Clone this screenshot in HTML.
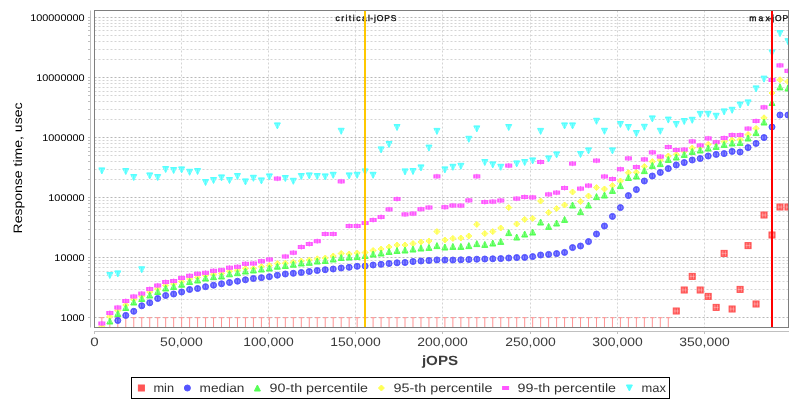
<!DOCTYPE html>
<html><head><meta charset="utf-8"><title>Response time vs jOPS</title>
<style>html,body{margin:0;padding:0;background:#fff;}body{width:800px;height:400px;overflow:hidden;}svg{display:block;will-change:transform;}text{font-family:"Liberation Sans",sans-serif;text-rendering:geometricPrecision;}</style>
</head><body>
<svg width="800" height="400" viewBox="0 0 800 400">
<defs><clipPath id="pc"><rect x="94.5" y="10.5" width="694" height="317"/></clipPath></defs>
<g stroke="#d4d4d4" stroke-width="1" stroke-dasharray="2 2" fill="none" clip-path="url(#pc)">
<path d="M94.5 317.5H788.5" stroke="#b8b8b8"/>
<path d="M94.5 299.5H788.5"/>
<path d="M94.5 289.5H788.5"/>
<path d="M94.5 281.5H788.5"/>
<path d="M94.5 275.5H788.5"/>
<path d="M94.5 271.5H788.5"/>
<path d="M94.5 267.5H788.5"/>
<path d="M94.5 263.5H788.5"/>
<path d="M94.5 260.5H788.5"/>
<path d="M94.5 257.5H788.5" stroke="#b8b8b8"/>
<path d="M94.5 239.5H788.5"/>
<path d="M94.5 229.5H788.5"/>
<path d="M94.5 221.5H788.5"/>
<path d="M94.5 215.5H788.5"/>
<path d="M94.5 211.5H788.5"/>
<path d="M94.5 207.5H788.5"/>
<path d="M94.5 203.5H788.5"/>
<path d="M94.5 200.5H788.5"/>
<path d="M94.5 197.5H788.5" stroke="#b8b8b8"/>
<path d="M94.5 179.5H788.5"/>
<path d="M94.5 169.5H788.5"/>
<path d="M94.5 161.5H788.5"/>
<path d="M94.5 155.5H788.5"/>
<path d="M94.5 151.5H788.5"/>
<path d="M94.5 147.5H788.5"/>
<path d="M94.5 143.5H788.5"/>
<path d="M94.5 140.5H788.5"/>
<path d="M94.5 137.5H788.5" stroke="#b8b8b8"/>
<path d="M94.5 119.5H788.5"/>
<path d="M94.5 109.5H788.5"/>
<path d="M94.5 101.5H788.5"/>
<path d="M94.5 95.5H788.5"/>
<path d="M94.5 91.5H788.5"/>
<path d="M94.5 87.5H788.5"/>
<path d="M94.5 83.5H788.5"/>
<path d="M94.5 80.5H788.5"/>
<path d="M94.5 77.5H788.5" stroke="#b8b8b8"/>
<path d="M94.5 59.5H788.5"/>
<path d="M94.5 49.5H788.5"/>
<path d="M94.5 41.5H788.5"/>
<path d="M94.5 35.5H788.5"/>
<path d="M94.5 30.5H788.5"/>
<path d="M94.5 26.5H788.5"/>
<path d="M94.5 23.5H788.5"/>
<path d="M94.5 20.5H788.5"/>
<path d="M94.5 17.5H788.5" stroke="#b8b8b8"/>
<path d="M94.5 10.5V327.5"/>
<path d="M181.5 10.5V327.5"/>
<path d="M268.5 10.5V327.5"/>
<path d="M355.5 10.5V327.5"/>
<path d="M442.5 10.5V327.5"/>
<path d="M530.5 10.5V327.5"/>
<path d="M617.5 10.5V327.5"/>
<path d="M704.5 10.5V327.5"/>
</g>
<g clip-path="url(#pc)" fill="#000" font-size="8.5px" stroke="#000" stroke-width="0.28">
<text x="335.4" y="20.6" textLength="34.6" lengthAdjust="spacing">critical</text>
<text x="370.3" y="20.6" textLength="26" lengthAdjust="spacing">-jOPS</text>
<text x="749.2" y="20.6" textLength="20.6" lengthAdjust="spacing">max</text>
<text x="768.5" y="20.6" textLength="26.2" lengthAdjust="spacing">-jOPS</text>
</g>
<g clip-path="url(#pc)">
<g stroke="#ff9494" stroke-width="1" fill="none">
<path d="M99.75 317.7H103.95M101.85 317.7V329.5"/>
<path d="M107.73 317.7H111.93M109.83 317.7V329.5"/>
<path d="M115.71 317.7H119.91M117.81 317.7V329.5"/>
<path d="M123.68 317.7H127.88M125.78 317.7V329.5"/>
<path d="M131.66 317.7H135.86M133.76 317.7V329.5"/>
<path d="M139.64 317.7H143.84M141.74 317.7V329.5"/>
<path d="M147.62 317.7H151.82M149.72 317.7V329.5"/>
<path d="M155.6 317.7H159.8M157.7 317.7V329.5"/>
<path d="M163.57 317.7H167.77M165.67 317.7V329.5"/>
<path d="M171.55 317.7H175.75M173.65 317.7V329.5"/>
<path d="M179.53 317.7H183.73M181.63 317.7V329.5"/>
<path d="M187.51 317.7H191.71M189.61 317.7V329.5"/>
<path d="M195.49 317.7H199.69M197.59 317.7V329.5"/>
<path d="M203.46 317.7H207.66M205.56 317.7V329.5"/>
<path d="M211.44 317.7H215.64M213.54 317.7V329.5"/>
<path d="M219.42 317.7H223.62M221.52 317.7V329.5"/>
<path d="M227.4 317.7H231.6M229.5 317.7V329.5"/>
<path d="M235.38 317.7H239.58M237.48 317.7V329.5"/>
<path d="M243.35 317.7H247.55M245.45 317.7V329.5"/>
<path d="M251.33 317.7H255.53M253.43 317.7V329.5"/>
<path d="M259.31 317.7H263.51M261.41 317.7V329.5"/>
<path d="M267.29 317.7H271.49M269.39 317.7V329.5"/>
<path d="M275.27 317.7H279.47M277.37 317.7V329.5"/>
<path d="M283.24 317.7H287.44M285.34 317.7V329.5"/>
<path d="M291.22 317.7H295.42M293.32 317.7V329.5"/>
<path d="M299.2 317.7H303.4M301.3 317.7V329.5"/>
<path d="M307.18 317.7H311.38M309.28 317.7V329.5"/>
<path d="M315.16 317.7H319.36M317.26 317.7V329.5"/>
<path d="M323.13 317.7H327.33M325.23 317.7V329.5"/>
<path d="M331.11 317.7H335.31M333.21 317.7V329.5"/>
<path d="M339.09 317.7H343.29M341.19 317.7V329.5"/>
<path d="M347.07 317.7H351.27M349.17 317.7V329.5"/>
<path d="M355.05 317.7H359.25M357.15 317.7V329.5"/>
<path d="M363.02 317.7H367.22M365.12 317.7V329.5"/>
<path d="M371 317.7H375.2M373.1 317.7V329.5"/>
<path d="M378.98 317.7H383.18M381.08 317.7V329.5"/>
<path d="M386.96 317.7H391.16M389.06 317.7V329.5"/>
<path d="M394.94 317.7H399.14M397.04 317.7V329.5"/>
<path d="M402.91 317.7H407.11M405.01 317.7V329.5"/>
<path d="M410.89 317.7H415.09M412.99 317.7V329.5"/>
<path d="M418.87 317.7H423.07M420.97 317.7V329.5"/>
<path d="M426.85 317.7H431.05M428.95 317.7V329.5"/>
<path d="M434.83 317.7H439.03M436.93 317.7V329.5"/>
<path d="M442.8 317.7H447M444.9 317.7V329.5"/>
<path d="M450.78 317.7H454.98M452.88 317.7V329.5"/>
<path d="M458.76 317.7H462.96M460.86 317.7V329.5"/>
<path d="M466.74 317.7H470.94M468.84 317.7V329.5"/>
<path d="M474.72 317.7H478.92M476.82 317.7V329.5"/>
<path d="M482.69 317.7H486.89M484.79 317.7V329.5"/>
<path d="M490.67 317.7H494.87M492.77 317.7V329.5"/>
<path d="M498.65 317.7H502.85M500.75 317.7V329.5"/>
<path d="M506.63 317.7H510.83M508.73 317.7V329.5"/>
<path d="M514.61 317.7H518.81M516.71 317.7V329.5"/>
<path d="M522.58 317.7H526.78M524.68 317.7V329.5"/>
<path d="M530.56 317.7H534.76M532.66 317.7V329.5"/>
<path d="M538.54 317.7H542.74M540.64 317.7V329.5"/>
<path d="M546.52 317.7H550.72M548.62 317.7V329.5"/>
<path d="M554.5 317.7H558.7M556.6 317.7V329.5"/>
<path d="M562.47 317.7H566.67M564.57 317.7V329.5"/>
<path d="M570.45 317.7H574.65M572.55 317.7V329.5"/>
<path d="M578.43 317.7H582.63M580.53 317.7V329.5"/>
<path d="M586.41 317.7H590.61M588.51 317.7V329.5"/>
<path d="M594.39 317.7H598.59M596.49 317.7V329.5"/>
<path d="M602.36 317.7H606.56M604.46 317.7V329.5"/>
<path d="M610.34 317.7H614.54M612.44 317.7V329.5"/>
<path d="M618.32 317.7H622.52M620.42 317.7V329.5"/>
<path d="M626.3 317.7H630.5M628.4 317.7V329.5"/>
<path d="M634.28 317.7H638.48M636.38 317.7V329.5"/>
<path d="M642.25 317.7H646.45M644.35 317.7V329.5"/>
<path d="M650.23 317.7H654.43M652.33 317.7V329.5"/>
<path d="M658.21 317.7H662.41M660.31 317.7V329.5"/>
<path d="M666.19 317.7H670.39M668.29 317.7V329.5"/>
</g>
<path d="M98.85 167.9L104.85 167.9L101.85 173.9Z" fill="#55ffff" stroke="#55ffff"/>
<path d="M100.55 168.9V171.9M103.15 168.9V171.9" stroke="#fff" stroke-width="0.8" fill="none" opacity="0.42"/>
<path d="M106.83 272.5L112.83 272.5L109.83 278.5Z" fill="#55ffff" stroke="#55ffff"/>
<path d="M108.53 273.5V276.5M111.13 273.5V276.5" stroke="#fff" stroke-width="0.8" fill="none" opacity="0.42"/>
<path d="M114.81 270.9L120.81 270.9L117.81 276.9Z" fill="#55ffff" stroke="#55ffff"/>
<path d="M116.51 271.9V274.9M119.11 271.9V274.9" stroke="#fff" stroke-width="0.8" fill="none" opacity="0.42"/>
<path d="M122.78 168.5L128.78 168.5L125.78 174.5Z" fill="#55ffff" stroke="#55ffff"/>
<path d="M124.48 169.5V172.5M127.08 169.5V172.5" stroke="#fff" stroke-width="0.8" fill="none" opacity="0.42"/>
<path d="M130.76 174.5L136.76 174.5L133.76 180.5Z" fill="#55ffff" stroke="#55ffff"/>
<path d="M132.46 175.5V178.5M135.06 175.5V178.5" stroke="#fff" stroke-width="0.8" fill="none" opacity="0.42"/>
<path d="M138.74 266.8L144.74 266.8L141.74 272.8Z" fill="#55ffff" stroke="#55ffff"/>
<path d="M140.44 267.8V270.8M143.04 267.8V270.8" stroke="#fff" stroke-width="0.8" fill="none" opacity="0.42"/>
<path d="M146.72 172.9L152.72 172.9L149.72 178.9Z" fill="#55ffff" stroke="#55ffff"/>
<path d="M148.42 173.9V176.9M151.02 173.9V176.9" stroke="#fff" stroke-width="0.8" fill="none" opacity="0.42"/>
<path d="M154.7 174.5L160.7 174.5L157.7 180.5Z" fill="#55ffff" stroke="#55ffff"/>
<path d="M156.4 175.5V178.5M159 175.5V178.5" stroke="#fff" stroke-width="0.8" fill="none" opacity="0.42"/>
<path d="M162.67 166.5L168.67 166.5L165.67 172.5Z" fill="#55ffff" stroke="#55ffff"/>
<path d="M164.37 167.5V170.5M166.97 167.5V170.5" stroke="#fff" stroke-width="0.8" fill="none" opacity="0.42"/>
<path d="M170.65 167.5L176.65 167.5L173.65 173.5Z" fill="#55ffff" stroke="#55ffff"/>
<path d="M172.35 168.5V171.5M174.95 168.5V171.5" stroke="#fff" stroke-width="0.8" fill="none" opacity="0.42"/>
<path d="M178.63 166.9L184.63 166.9L181.63 172.9Z" fill="#55ffff" stroke="#55ffff"/>
<path d="M180.33 167.9V170.9M182.93 167.9V170.9" stroke="#fff" stroke-width="0.8" fill="none" opacity="0.42"/>
<path d="M186.61 169.3L192.61 169.3L189.61 175.3Z" fill="#55ffff" stroke="#55ffff"/>
<path d="M188.31 170.3V173.3M190.91 170.3V173.3" stroke="#fff" stroke-width="0.8" fill="none" opacity="0.42"/>
<path d="M194.59 168.5L200.59 168.5L197.59 174.5Z" fill="#55ffff" stroke="#55ffff"/>
<path d="M196.29 169.5V172.5M198.89 169.5V172.5" stroke="#fff" stroke-width="0.8" fill="none" opacity="0.42"/>
<path d="M202.56 179.5L208.56 179.5L205.56 185.5Z" fill="#55ffff" stroke="#55ffff"/>
<path d="M204.26 180.5V183.5M206.86 180.5V183.5" stroke="#fff" stroke-width="0.8" fill="none" opacity="0.42"/>
<path d="M210.54 177.5L216.54 177.5L213.54 183.5Z" fill="#55ffff" stroke="#55ffff"/>
<path d="M212.24 178.5V181.5M214.84 178.5V181.5" stroke="#fff" stroke-width="0.8" fill="none" opacity="0.42"/>
<path d="M218.52 174.9L224.52 174.9L221.52 180.9Z" fill="#55ffff" stroke="#55ffff"/>
<path d="M220.22 175.9V178.9M222.82 175.9V178.9" stroke="#fff" stroke-width="0.8" fill="none" opacity="0.42"/>
<path d="M226.5 177.5L232.5 177.5L229.5 183.5Z" fill="#55ffff" stroke="#55ffff"/>
<path d="M228.2 178.5V181.5M230.8 178.5V181.5" stroke="#fff" stroke-width="0.8" fill="none" opacity="0.42"/>
<path d="M234.48 173.5L240.48 173.5L237.48 179.5Z" fill="#55ffff" stroke="#55ffff"/>
<path d="M236.18 174.5V177.5M238.78 174.5V177.5" stroke="#fff" stroke-width="0.8" fill="none" opacity="0.42"/>
<path d="M242.45 178.9L248.45 178.9L245.45 184.9Z" fill="#55ffff" stroke="#55ffff"/>
<path d="M244.15 179.9V182.9M246.75 179.9V182.9" stroke="#fff" stroke-width="0.8" fill="none" opacity="0.42"/>
<path d="M250.43 175.3L256.43 175.3L253.43 181.3Z" fill="#55ffff" stroke="#55ffff"/>
<path d="M252.13 176.3V179.3M254.73 176.3V179.3" stroke="#fff" stroke-width="0.8" fill="none" opacity="0.42"/>
<path d="M258.41 177.9L264.41 177.9L261.41 183.9Z" fill="#55ffff" stroke="#55ffff"/>
<path d="M260.11 178.9V181.9M262.71 178.9V181.9" stroke="#fff" stroke-width="0.8" fill="none" opacity="0.42"/>
<path d="M266.39 173.9L272.39 173.9L269.39 179.9Z" fill="#55ffff" stroke="#55ffff"/>
<path d="M268.09 174.9V177.9M270.69 174.9V177.9" stroke="#fff" stroke-width="0.8" fill="none" opacity="0.42"/>
<path d="M274.37 122.9L280.37 122.9L277.37 128.9Z" fill="#55ffff" stroke="#55ffff"/>
<path d="M276.07 123.9V126.9M278.67 123.9V126.9" stroke="#fff" stroke-width="0.8" fill="none" opacity="0.42"/>
<path d="M282.34 175.5L288.34 175.5L285.34 181.5Z" fill="#55ffff" stroke="#55ffff"/>
<path d="M284.04 176.5V179.5M286.64 176.5V179.5" stroke="#fff" stroke-width="0.8" fill="none" opacity="0.42"/>
<path d="M290.32 178.3L296.32 178.3L293.32 184.3Z" fill="#55ffff" stroke="#55ffff"/>
<path d="M292.02 179.3V182.3M294.62 179.3V182.3" stroke="#fff" stroke-width="0.8" fill="none" opacity="0.42"/>
<path d="M298.3 173.5L304.3 173.5L301.3 179.5Z" fill="#55ffff" stroke="#55ffff"/>
<path d="M300 174.5V177.5M302.6 174.5V177.5" stroke="#fff" stroke-width="0.8" fill="none" opacity="0.42"/>
<path d="M306.28 172.9L312.28 172.9L309.28 178.9Z" fill="#55ffff" stroke="#55ffff"/>
<path d="M307.98 173.9V176.9M310.58 173.9V176.9" stroke="#fff" stroke-width="0.8" fill="none" opacity="0.42"/>
<path d="M314.26 173.5L320.26 173.5L317.26 179.5Z" fill="#55ffff" stroke="#55ffff"/>
<path d="M315.96 174.5V177.5M318.56 174.5V177.5" stroke="#fff" stroke-width="0.8" fill="none" opacity="0.42"/>
<path d="M322.23 173.9L328.23 173.9L325.23 179.9Z" fill="#55ffff" stroke="#55ffff"/>
<path d="M323.93 174.9V177.9M326.53 174.9V177.9" stroke="#fff" stroke-width="0.8" fill="none" opacity="0.42"/>
<path d="M330.21 172.3L336.21 172.3L333.21 178.3Z" fill="#55ffff" stroke="#55ffff"/>
<path d="M331.91 173.3V176.3M334.51 173.3V176.3" stroke="#fff" stroke-width="0.8" fill="none" opacity="0.42"/>
<path d="M338.19 128.3L344.19 128.3L341.19 134.3Z" fill="#55ffff" stroke="#55ffff"/>
<path d="M339.89 129.3V132.3M342.49 129.3V132.3" stroke="#fff" stroke-width="0.8" fill="none" opacity="0.42"/>
<path d="M346.17 172.9L352.17 172.9L349.17 178.9Z" fill="#55ffff" stroke="#55ffff"/>
<path d="M347.87 173.9V176.9M350.47 173.9V176.9" stroke="#fff" stroke-width="0.8" fill="none" opacity="0.42"/>
<path d="M354.15 172.3L360.15 172.3L357.15 178.3Z" fill="#55ffff" stroke="#55ffff"/>
<path d="M355.85 173.3V176.3M358.45 173.3V176.3" stroke="#fff" stroke-width="0.8" fill="none" opacity="0.42"/>
<path d="M362.12 168.9L368.12 168.9L365.12 174.9Z" fill="#55ffff" stroke="#55ffff"/>
<path d="M363.82 169.9V172.9M366.42 169.9V172.9" stroke="#fff" stroke-width="0.8" fill="none" opacity="0.42"/>
<path d="M370.1 172.3L376.1 172.3L373.1 178.3Z" fill="#55ffff" stroke="#55ffff"/>
<path d="M371.8 173.3V176.3M374.4 173.3V176.3" stroke="#fff" stroke-width="0.8" fill="none" opacity="0.42"/>
<path d="M378.08 146.9L384.08 146.9L381.08 152.9Z" fill="#55ffff" stroke="#55ffff"/>
<path d="M379.78 147.9V150.9M382.38 147.9V150.9" stroke="#fff" stroke-width="0.8" fill="none" opacity="0.42"/>
<path d="M386.06 141.5L392.06 141.5L389.06 147.5Z" fill="#55ffff" stroke="#55ffff"/>
<path d="M387.76 142.5V145.5M390.36 142.5V145.5" stroke="#fff" stroke-width="0.8" fill="none" opacity="0.42"/>
<path d="M394.04 124.5L400.04 124.5L397.04 130.5Z" fill="#55ffff" stroke="#55ffff"/>
<path d="M395.74 125.5V128.5M398.34 125.5V128.5" stroke="#fff" stroke-width="0.8" fill="none" opacity="0.42"/>
<path d="M402.01 168.9L408.01 168.9L405.01 174.9Z" fill="#55ffff" stroke="#55ffff"/>
<path d="M403.71 169.9V172.9M406.31 169.9V172.9" stroke="#fff" stroke-width="0.8" fill="none" opacity="0.42"/>
<path d="M409.99 168.5L415.99 168.5L412.99 174.5Z" fill="#55ffff" stroke="#55ffff"/>
<path d="M411.69 169.5V172.5M414.29 169.5V172.5" stroke="#fff" stroke-width="0.8" fill="none" opacity="0.42"/>
<path d="M417.97 164.9L423.97 164.9L420.97 170.9Z" fill="#55ffff" stroke="#55ffff"/>
<path d="M419.67 165.9V168.9M422.27 165.9V168.9" stroke="#fff" stroke-width="0.8" fill="none" opacity="0.42"/>
<path d="M425.95 145.1L431.95 145.1L428.95 151.1Z" fill="#55ffff" stroke="#55ffff"/>
<path d="M427.65 146.1V149.1M430.25 146.1V149.1" stroke="#fff" stroke-width="0.8" fill="none" opacity="0.42"/>
<path d="M433.93 128.4L439.93 128.4L436.93 134.4Z" fill="#55ffff" stroke="#55ffff"/>
<path d="M435.63 129.4V132.4M438.23 129.4V132.4" stroke="#fff" stroke-width="0.8" fill="none" opacity="0.42"/>
<path d="M441.9 166.9L447.9 166.9L444.9 172.9Z" fill="#55ffff" stroke="#55ffff"/>
<path d="M443.6 167.9V170.9M446.2 167.9V170.9" stroke="#fff" stroke-width="0.8" fill="none" opacity="0.42"/>
<path d="M449.88 164.3L455.88 164.3L452.88 170.3Z" fill="#55ffff" stroke="#55ffff"/>
<path d="M451.58 165.3V168.3M454.18 165.3V168.3" stroke="#fff" stroke-width="0.8" fill="none" opacity="0.42"/>
<path d="M457.86 163.3L463.86 163.3L460.86 169.3Z" fill="#55ffff" stroke="#55ffff"/>
<path d="M459.56 164.3V167.3M462.16 164.3V167.3" stroke="#fff" stroke-width="0.8" fill="none" opacity="0.42"/>
<path d="M465.84 136.3L471.84 136.3L468.84 142.3Z" fill="#55ffff" stroke="#55ffff"/>
<path d="M467.54 137.3V140.3M470.14 137.3V140.3" stroke="#fff" stroke-width="0.8" fill="none" opacity="0.42"/>
<path d="M473.82 125.9L479.82 125.9L476.82 131.9Z" fill="#55ffff" stroke="#55ffff"/>
<path d="M475.52 126.9V129.9M478.12 126.9V129.9" stroke="#fff" stroke-width="0.8" fill="none" opacity="0.42"/>
<path d="M481.79 159.5L487.79 159.5L484.79 165.5Z" fill="#55ffff" stroke="#55ffff"/>
<path d="M483.49 160.5V163.5M486.09 160.5V163.5" stroke="#fff" stroke-width="0.8" fill="none" opacity="0.42"/>
<path d="M489.77 161.9L495.77 161.9L492.77 167.9Z" fill="#55ffff" stroke="#55ffff"/>
<path d="M491.47 162.9V165.9M494.07 162.9V165.9" stroke="#fff" stroke-width="0.8" fill="none" opacity="0.42"/>
<path d="M497.75 164.3L503.75 164.3L500.75 170.3Z" fill="#55ffff" stroke="#55ffff"/>
<path d="M499.45 165.3V168.3M502.05 165.3V168.3" stroke="#fff" stroke-width="0.8" fill="none" opacity="0.42"/>
<path d="M505.73 124.5L511.73 124.5L508.73 130.5Z" fill="#55ffff" stroke="#55ffff"/>
<path d="M507.43 125.5V128.5M510.03 125.5V128.5" stroke="#fff" stroke-width="0.8" fill="none" opacity="0.42"/>
<path d="M513.71 160.9L519.71 160.9L516.71 166.9Z" fill="#55ffff" stroke="#55ffff"/>
<path d="M515.41 161.9V164.9M518.01 161.9V164.9" stroke="#fff" stroke-width="0.8" fill="none" opacity="0.42"/>
<path d="M521.68 159.5L527.68 159.5L524.68 165.5Z" fill="#55ffff" stroke="#55ffff"/>
<path d="M523.38 160.5V163.5M525.98 160.5V163.5" stroke="#fff" stroke-width="0.8" fill="none" opacity="0.42"/>
<path d="M529.66 157.9L535.66 157.9L532.66 163.9Z" fill="#55ffff" stroke="#55ffff"/>
<path d="M531.36 158.9V161.9M533.96 158.9V161.9" stroke="#fff" stroke-width="0.8" fill="none" opacity="0.42"/>
<path d="M537.64 128.4L543.64 128.4L540.64 134.4Z" fill="#55ffff" stroke="#55ffff"/>
<path d="M539.34 129.4V132.4M541.94 129.4V132.4" stroke="#fff" stroke-width="0.8" fill="none" opacity="0.42"/>
<path d="M545.62 155.9L551.62 155.9L548.62 161.9Z" fill="#55ffff" stroke="#55ffff"/>
<path d="M547.32 156.9V159.9M549.92 156.9V159.9" stroke="#fff" stroke-width="0.8" fill="none" opacity="0.42"/>
<path d="M553.6 151.9L559.6 151.9L556.6 157.9Z" fill="#55ffff" stroke="#55ffff"/>
<path d="M555.3 152.9V155.9M557.9 152.9V155.9" stroke="#fff" stroke-width="0.8" fill="none" opacity="0.42"/>
<path d="M561.57 122.9L567.57 122.9L564.57 128.9Z" fill="#55ffff" stroke="#55ffff"/>
<path d="M563.27 123.9V126.9M565.87 123.9V126.9" stroke="#fff" stroke-width="0.8" fill="none" opacity="0.42"/>
<path d="M569.55 122.9L575.55 122.9L572.55 128.9Z" fill="#55ffff" stroke="#55ffff"/>
<path d="M571.25 123.9V126.9M573.85 123.9V126.9" stroke="#fff" stroke-width="0.8" fill="none" opacity="0.42"/>
<path d="M577.53 151.5L583.53 151.5L580.53 157.5Z" fill="#55ffff" stroke="#55ffff"/>
<path d="M579.23 152.5V155.5M581.83 152.5V155.5" stroke="#fff" stroke-width="0.8" fill="none" opacity="0.42"/>
<path d="M585.51 147.9L591.51 147.9L588.51 153.9Z" fill="#55ffff" stroke="#55ffff"/>
<path d="M587.21 148.9V151.9M589.81 148.9V151.9" stroke="#fff" stroke-width="0.8" fill="none" opacity="0.42"/>
<path d="M593.49 118.3L599.49 118.3L596.49 124.3Z" fill="#55ffff" stroke="#55ffff"/>
<path d="M595.19 119.3V122.3M597.79 119.3V122.3" stroke="#fff" stroke-width="0.8" fill="none" opacity="0.42"/>
<path d="M601.46 128.3L607.46 128.3L604.46 134.3Z" fill="#55ffff" stroke="#55ffff"/>
<path d="M603.16 129.3V132.3M605.76 129.3V132.3" stroke="#fff" stroke-width="0.8" fill="none" opacity="0.42"/>
<path d="M609.44 147.9L615.44 147.9L612.44 153.9Z" fill="#55ffff" stroke="#55ffff"/>
<path d="M611.14 148.9V151.9M613.74 148.9V151.9" stroke="#fff" stroke-width="0.8" fill="none" opacity="0.42"/>
<path d="M617.42 121.5L623.42 121.5L620.42 127.5Z" fill="#55ffff" stroke="#55ffff"/>
<path d="M619.12 122.5V125.5M621.72 122.5V125.5" stroke="#fff" stroke-width="0.8" fill="none" opacity="0.42"/>
<path d="M625.4 124.5L631.4 124.5L628.4 130.5Z" fill="#55ffff" stroke="#55ffff"/>
<path d="M627.1 125.5V128.5M629.7 125.5V128.5" stroke="#fff" stroke-width="0.8" fill="none" opacity="0.42"/>
<path d="M633.38 130.5L639.38 130.5L636.38 136.5Z" fill="#55ffff" stroke="#55ffff"/>
<path d="M635.08 131.5V134.5M637.68 131.5V134.5" stroke="#fff" stroke-width="0.8" fill="none" opacity="0.42"/>
<path d="M641.35 124.3L647.35 124.3L644.35 130.3Z" fill="#55ffff" stroke="#55ffff"/>
<path d="M643.05 125.3V128.3M645.65 125.3V128.3" stroke="#fff" stroke-width="0.8" fill="none" opacity="0.42"/>
<path d="M649.33 115.9L655.33 115.9L652.33 121.9Z" fill="#55ffff" stroke="#55ffff"/>
<path d="M651.03 116.9V119.9M653.63 116.9V119.9" stroke="#fff" stroke-width="0.8" fill="none" opacity="0.42"/>
<path d="M657.31 128.3L663.31 128.3L660.31 134.3Z" fill="#55ffff" stroke="#55ffff"/>
<path d="M659.01 129.3V132.3M661.61 129.3V132.3" stroke="#fff" stroke-width="0.8" fill="none" opacity="0.42"/>
<path d="M665.29 117.1L671.29 117.1L668.29 123.1Z" fill="#55ffff" stroke="#55ffff"/>
<path d="M666.99 118.1V121.1M669.59 118.1V121.1" stroke="#fff" stroke-width="0.8" fill="none" opacity="0.42"/>
<path d="M673.27 121.5L679.27 121.5L676.27 127.5Z" fill="#55ffff" stroke="#55ffff"/>
<path d="M674.97 122.5V125.5M677.57 122.5V125.5" stroke="#fff" stroke-width="0.8" fill="none" opacity="0.42"/>
<path d="M681.24 118.5L687.24 118.5L684.24 124.5Z" fill="#55ffff" stroke="#55ffff"/>
<path d="M682.94 119.5V122.5M685.54 119.5V122.5" stroke="#fff" stroke-width="0.8" fill="none" opacity="0.42"/>
<path d="M689.22 117.3L695.22 117.3L692.22 123.3Z" fill="#55ffff" stroke="#55ffff"/>
<path d="M690.92 118.3V121.3M693.52 118.3V121.3" stroke="#fff" stroke-width="0.8" fill="none" opacity="0.42"/>
<path d="M697.2 111.4L703.2 111.4L700.2 117.4Z" fill="#55ffff" stroke="#55ffff"/>
<path d="M698.9 112.4V115.4M701.5 112.4V115.4" stroke="#fff" stroke-width="0.8" fill="none" opacity="0.42"/>
<path d="M705.18 111.3L711.18 111.3L708.18 117.3Z" fill="#55ffff" stroke="#55ffff"/>
<path d="M706.88 112.3V115.3M709.48 112.3V115.3" stroke="#fff" stroke-width="0.8" fill="none" opacity="0.42"/>
<path d="M713.16 113.3L719.16 113.3L716.16 119.3Z" fill="#55ffff" stroke="#55ffff"/>
<path d="M714.86 114.3V117.3M717.46 114.3V117.3" stroke="#fff" stroke-width="0.8" fill="none" opacity="0.42"/>
<path d="M721.13 108.9L727.13 108.9L724.13 114.9Z" fill="#55ffff" stroke="#55ffff"/>
<path d="M722.83 109.9V112.9M725.43 109.9V112.9" stroke="#fff" stroke-width="0.8" fill="none" opacity="0.42"/>
<path d="M729.11 107.3L735.11 107.3L732.11 113.3Z" fill="#55ffff" stroke="#55ffff"/>
<path d="M730.81 108.3V111.3M733.41 108.3V111.3" stroke="#fff" stroke-width="0.8" fill="none" opacity="0.42"/>
<path d="M737.09 102.1L743.09 102.1L740.09 108.1Z" fill="#55ffff" stroke="#55ffff"/>
<path d="M738.79 103.1V106.1M741.39 103.1V106.1" stroke="#fff" stroke-width="0.8" fill="none" opacity="0.42"/>
<path d="M745.07 99.9L751.07 99.9L748.07 105.9Z" fill="#55ffff" stroke="#55ffff"/>
<path d="M746.77 100.9V103.9M749.37 100.9V103.9" stroke="#fff" stroke-width="0.8" fill="none" opacity="0.42"/>
<path d="M753.05 85.9L759.05 85.9L756.05 91.9Z" fill="#55ffff" stroke="#55ffff"/>
<path d="M754.75 86.9V89.9M757.35 86.9V89.9" stroke="#fff" stroke-width="0.8" fill="none" opacity="0.42"/>
<path d="M761.02 76.15L767.02 76.15L764.02 82.15Z" fill="#55ffff" stroke="#55ffff"/>
<path d="M762.72 77.15V80.15M765.32 77.15V80.15" stroke="#fff" stroke-width="0.8" fill="none" opacity="0.42"/>
<path d="M769 49.9L775 49.9L772 55.9Z" fill="#55ffff" stroke="#55ffff"/>
<path d="M770.7 50.9V53.9M773.3 50.9V53.9" stroke="#fff" stroke-width="0.8" fill="none" opacity="0.42"/>
<path d="M776.98 30.6L782.98 30.6L779.98 36.6Z" fill="#55ffff" stroke="#55ffff"/>
<path d="M778.68 31.6V34.6M781.28 31.6V34.6" stroke="#fff" stroke-width="0.8" fill="none" opacity="0.42"/>
<path d="M784.96 38.65L790.96 38.65L787.96 44.65Z" fill="#55ffff" stroke="#55ffff"/>
<path d="M786.66 39.65V42.65M789.26 39.65V42.65" stroke="#fff" stroke-width="0.8" fill="none" opacity="0.42"/>
<path d="M101.85 323.8L104.85 326.8L101.85 329.8L98.85 326.8Z" fill="#ffff55" stroke="#ffff55"/>
<path d="M100.55 325.3V328.3M103.15 325.3V328.3" stroke="#fff" stroke-width="0.8" fill="none" opacity="0.42"/>
<path d="M109.83 313.5L112.83 316.5L109.83 319.5L106.83 316.5Z" fill="#ffff55" stroke="#ffff55"/>
<path d="M108.53 315V318M111.13 315V318" stroke="#fff" stroke-width="0.8" fill="none" opacity="0.42"/>
<path d="M117.81 307.5L120.81 310.5L117.81 313.5L114.81 310.5Z" fill="#ffff55" stroke="#ffff55"/>
<path d="M116.51 309V312M119.11 309V312" stroke="#fff" stroke-width="0.8" fill="none" opacity="0.42"/>
<path d="M125.78 302L128.78 305L125.78 308L122.78 305Z" fill="#ffff55" stroke="#ffff55"/>
<path d="M124.48 303.5V306.5M127.08 303.5V306.5" stroke="#fff" stroke-width="0.8" fill="none" opacity="0.42"/>
<path d="M133.76 296.5L136.76 299.5L133.76 302.5L130.76 299.5Z" fill="#ffff55" stroke="#ffff55"/>
<path d="M132.46 298V301M135.06 298V301" stroke="#fff" stroke-width="0.8" fill="none" opacity="0.42"/>
<path d="M141.74 293.3L144.74 296.3L141.74 299.3L138.74 296.3Z" fill="#ffff55" stroke="#ffff55"/>
<path d="M140.44 294.8V297.8M143.04 294.8V297.8" stroke="#fff" stroke-width="0.8" fill="none" opacity="0.42"/>
<path d="M149.72 289L152.72 292L149.72 295L146.72 292Z" fill="#ffff55" stroke="#ffff55"/>
<path d="M148.42 290.5V293.5M151.02 290.5V293.5" stroke="#fff" stroke-width="0.8" fill="none" opacity="0.42"/>
<path d="M157.7 286L160.7 289L157.7 292L154.7 289Z" fill="#ffff55" stroke="#ffff55"/>
<path d="M156.4 287.5V290.5M159 287.5V290.5" stroke="#fff" stroke-width="0.8" fill="none" opacity="0.42"/>
<path d="M165.67 282.5L168.67 285.5L165.67 288.5L162.67 285.5Z" fill="#ffff55" stroke="#ffff55"/>
<path d="M164.37 284V287M166.97 284V287" stroke="#fff" stroke-width="0.8" fill="none" opacity="0.42"/>
<path d="M173.65 281L176.65 284L173.65 287L170.65 284Z" fill="#ffff55" stroke="#ffff55"/>
<path d="M172.35 282.5V285.5M174.95 282.5V285.5" stroke="#fff" stroke-width="0.8" fill="none" opacity="0.42"/>
<path d="M181.63 278.7L184.63 281.7L181.63 284.7L178.63 281.7Z" fill="#ffff55" stroke="#ffff55"/>
<path d="M180.33 280.2V283.2M182.93 280.2V283.2" stroke="#fff" stroke-width="0.8" fill="none" opacity="0.42"/>
<path d="M189.61 276L192.61 279L189.61 282L186.61 279Z" fill="#ffff55" stroke="#ffff55"/>
<path d="M188.31 277.5V280.5M190.91 277.5V280.5" stroke="#fff" stroke-width="0.8" fill="none" opacity="0.42"/>
<path d="M197.59 274.5L200.59 277.5L197.59 280.5L194.59 277.5Z" fill="#ffff55" stroke="#ffff55"/>
<path d="M196.29 276V279M198.89 276V279" stroke="#fff" stroke-width="0.8" fill="none" opacity="0.42"/>
<path d="M205.56 272.5L208.56 275.5L205.56 278.5L202.56 275.5Z" fill="#ffff55" stroke="#ffff55"/>
<path d="M204.26 274V277M206.86 274V277" stroke="#fff" stroke-width="0.8" fill="none" opacity="0.42"/>
<path d="M213.54 271.2L216.54 274.2L213.54 277.2L210.54 274.2Z" fill="#ffff55" stroke="#ffff55"/>
<path d="M212.24 272.7V275.7M214.84 272.7V275.7" stroke="#fff" stroke-width="0.8" fill="none" opacity="0.42"/>
<path d="M221.52 270.5L224.52 273.5L221.52 276.5L218.52 273.5Z" fill="#ffff55" stroke="#ffff55"/>
<path d="M220.22 272V275M222.82 272V275" stroke="#fff" stroke-width="0.8" fill="none" opacity="0.42"/>
<path d="M229.5 268.3L232.5 271.3L229.5 274.3L226.5 271.3Z" fill="#ffff55" stroke="#ffff55"/>
<path d="M228.2 269.8V272.8M230.8 269.8V272.8" stroke="#fff" stroke-width="0.8" fill="none" opacity="0.42"/>
<path d="M237.48 267.2L240.48 270.2L237.48 273.2L234.48 270.2Z" fill="#ffff55" stroke="#ffff55"/>
<path d="M236.18 268.7V271.7M238.78 268.7V271.7" stroke="#fff" stroke-width="0.8" fill="none" opacity="0.42"/>
<path d="M245.45 265.5L248.45 268.5L245.45 271.5L242.45 268.5Z" fill="#ffff55" stroke="#ffff55"/>
<path d="M244.15 267V270M246.75 267V270" stroke="#fff" stroke-width="0.8" fill="none" opacity="0.42"/>
<path d="M253.43 265.5L256.43 268.5L253.43 271.5L250.43 268.5Z" fill="#ffff55" stroke="#ffff55"/>
<path d="M252.13 267V270M254.73 267V270" stroke="#fff" stroke-width="0.8" fill="none" opacity="0.42"/>
<path d="M261.41 263.5L264.41 266.5L261.41 269.5L258.41 266.5Z" fill="#ffff55" stroke="#ffff55"/>
<path d="M260.11 265V268M262.71 265V268" stroke="#fff" stroke-width="0.8" fill="none" opacity="0.42"/>
<path d="M269.39 262.5L272.39 265.5L269.39 268.5L266.39 265.5Z" fill="#ffff55" stroke="#ffff55"/>
<path d="M268.09 264V267M270.69 264V267" stroke="#fff" stroke-width="0.8" fill="none" opacity="0.42"/>
<path d="M277.37 260.5L280.37 263.5L277.37 266.5L274.37 263.5Z" fill="#ffff55" stroke="#ffff55"/>
<path d="M276.07 262V265M278.67 262V265" stroke="#fff" stroke-width="0.8" fill="none" opacity="0.42"/>
<path d="M285.34 260.2L288.34 263.2L285.34 266.2L282.34 263.2Z" fill="#ffff55" stroke="#ffff55"/>
<path d="M284.04 261.7V264.7M286.64 261.7V264.7" stroke="#fff" stroke-width="0.8" fill="none" opacity="0.42"/>
<path d="M293.32 259.2L296.32 262.2L293.32 265.2L290.32 262.2Z" fill="#ffff55" stroke="#ffff55"/>
<path d="M292.02 260.7V263.7M294.62 260.7V263.7" stroke="#fff" stroke-width="0.8" fill="none" opacity="0.42"/>
<path d="M301.3 258L304.3 261L301.3 264L298.3 261Z" fill="#ffff55" stroke="#ffff55"/>
<path d="M300 259.5V262.5M302.6 259.5V262.5" stroke="#fff" stroke-width="0.8" fill="none" opacity="0.42"/>
<path d="M309.28 257L312.28 260L309.28 263L306.28 260Z" fill="#ffff55" stroke="#ffff55"/>
<path d="M307.98 258.5V261.5M310.58 258.5V261.5" stroke="#fff" stroke-width="0.8" fill="none" opacity="0.42"/>
<path d="M317.26 255.8L320.26 258.8L317.26 261.8L314.26 258.8Z" fill="#ffff55" stroke="#ffff55"/>
<path d="M315.96 257.3V260.3M318.56 257.3V260.3" stroke="#fff" stroke-width="0.8" fill="none" opacity="0.42"/>
<path d="M325.23 255L328.23 258L325.23 261L322.23 258Z" fill="#ffff55" stroke="#ffff55"/>
<path d="M323.93 256.5V259.5M326.53 256.5V259.5" stroke="#fff" stroke-width="0.8" fill="none" opacity="0.42"/>
<path d="M333.21 253L336.21 256L333.21 259L330.21 256Z" fill="#ffff55" stroke="#ffff55"/>
<path d="M331.91 254.5V257.5M334.51 254.5V257.5" stroke="#fff" stroke-width="0.8" fill="none" opacity="0.42"/>
<path d="M341.19 250.5L344.19 253.5L341.19 256.5L338.19 253.5Z" fill="#ffff55" stroke="#ffff55"/>
<path d="M339.89 252V255M342.49 252V255" stroke="#fff" stroke-width="0.8" fill="none" opacity="0.42"/>
<path d="M349.17 251L352.17 254L349.17 257L346.17 254Z" fill="#ffff55" stroke="#ffff55"/>
<path d="M347.87 252.5V255.5M350.47 252.5V255.5" stroke="#fff" stroke-width="0.8" fill="none" opacity="0.42"/>
<path d="M357.15 250L360.15 253L357.15 256L354.15 253Z" fill="#ffff55" stroke="#ffff55"/>
<path d="M355.85 251.5V254.5M358.45 251.5V254.5" stroke="#fff" stroke-width="0.8" fill="none" opacity="0.42"/>
<path d="M365.12 249.5L368.12 252.5L365.12 255.5L362.12 252.5Z" fill="#ffff55" stroke="#ffff55"/>
<path d="M363.82 251V254M366.42 251V254" stroke="#fff" stroke-width="0.8" fill="none" opacity="0.42"/>
<path d="M373.1 247.5L376.1 250.5L373.1 253.5L370.1 250.5Z" fill="#ffff55" stroke="#ffff55"/>
<path d="M371.8 249V252M374.4 249V252" stroke="#fff" stroke-width="0.8" fill="none" opacity="0.42"/>
<path d="M381.08 246L384.08 249L381.08 252L378.08 249Z" fill="#ffff55" stroke="#ffff55"/>
<path d="M379.78 247.5V250.5M382.38 247.5V250.5" stroke="#fff" stroke-width="0.8" fill="none" opacity="0.42"/>
<path d="M389.06 244L392.06 247L389.06 250L386.06 247Z" fill="#ffff55" stroke="#ffff55"/>
<path d="M387.76 245.5V248.5M390.36 245.5V248.5" stroke="#fff" stroke-width="0.8" fill="none" opacity="0.42"/>
<path d="M397.04 242L400.04 245L397.04 248L394.04 245Z" fill="#ffff55" stroke="#ffff55"/>
<path d="M395.74 243.5V246.5M398.34 243.5V246.5" stroke="#fff" stroke-width="0.8" fill="none" opacity="0.42"/>
<path d="M405.01 242L408.01 245L405.01 248L402.01 245Z" fill="#ffff55" stroke="#ffff55"/>
<path d="M403.71 243.5V246.5M406.31 243.5V246.5" stroke="#fff" stroke-width="0.8" fill="none" opacity="0.42"/>
<path d="M412.99 240.6L415.99 243.6L412.99 246.6L409.99 243.6Z" fill="#ffff55" stroke="#ffff55"/>
<path d="M411.69 242.1V245.1M414.29 242.1V245.1" stroke="#fff" stroke-width="0.8" fill="none" opacity="0.42"/>
<path d="M420.97 239L423.97 242L420.97 245L417.97 242Z" fill="#ffff55" stroke="#ffff55"/>
<path d="M419.67 240.5V243.5M422.27 240.5V243.5" stroke="#fff" stroke-width="0.8" fill="none" opacity="0.42"/>
<path d="M428.95 238L431.95 241L428.95 244L425.95 241Z" fill="#ffff55" stroke="#ffff55"/>
<path d="M427.65 239.5V242.5M430.25 239.5V242.5" stroke="#fff" stroke-width="0.8" fill="none" opacity="0.42"/>
<path d="M436.93 228.6L439.93 231.6L436.93 234.6L433.93 231.6Z" fill="#ffff55" stroke="#ffff55"/>
<path d="M435.63 230.1V233.1M438.23 230.1V233.1" stroke="#fff" stroke-width="0.8" fill="none" opacity="0.42"/>
<path d="M444.9 237L447.9 240L444.9 243L441.9 240Z" fill="#ffff55" stroke="#ffff55"/>
<path d="M443.6 238.5V241.5M446.2 238.5V241.5" stroke="#fff" stroke-width="0.8" fill="none" opacity="0.42"/>
<path d="M452.88 235.4L455.88 238.4L452.88 241.4L449.88 238.4Z" fill="#ffff55" stroke="#ffff55"/>
<path d="M451.58 236.9V239.9M454.18 236.9V239.9" stroke="#fff" stroke-width="0.8" fill="none" opacity="0.42"/>
<path d="M460.86 235L463.86 238L460.86 241L457.86 238Z" fill="#ffff55" stroke="#ffff55"/>
<path d="M459.56 236.5V239.5M462.16 236.5V239.5" stroke="#fff" stroke-width="0.8" fill="none" opacity="0.42"/>
<path d="M468.84 233L471.84 236L468.84 239L465.84 236Z" fill="#ffff55" stroke="#ffff55"/>
<path d="M467.54 234.5V237.5M470.14 234.5V237.5" stroke="#fff" stroke-width="0.8" fill="none" opacity="0.42"/>
<path d="M476.82 221.4L479.82 224.4L476.82 227.4L473.82 224.4Z" fill="#ffff55" stroke="#ffff55"/>
<path d="M475.52 222.9V225.9M478.12 222.9V225.9" stroke="#fff" stroke-width="0.8" fill="none" opacity="0.42"/>
<path d="M484.79 230.6L487.79 233.6L484.79 236.6L481.79 233.6Z" fill="#ffff55" stroke="#ffff55"/>
<path d="M483.49 232.1V235.1M486.09 232.1V235.1" stroke="#fff" stroke-width="0.8" fill="none" opacity="0.42"/>
<path d="M492.77 228.6L495.77 231.6L492.77 234.6L489.77 231.6Z" fill="#ffff55" stroke="#ffff55"/>
<path d="M491.47 230.1V233.1M494.07 230.1V233.1" stroke="#fff" stroke-width="0.8" fill="none" opacity="0.42"/>
<path d="M500.75 225L503.75 228L500.75 231L497.75 228Z" fill="#ffff55" stroke="#ffff55"/>
<path d="M499.45 226.5V229.5M502.05 226.5V229.5" stroke="#fff" stroke-width="0.8" fill="none" opacity="0.42"/>
<path d="M508.73 204.6L511.73 207.6L508.73 210.6L505.73 207.6Z" fill="#ffff55" stroke="#ffff55"/>
<path d="M507.43 206.1V209.1M510.03 206.1V209.1" stroke="#fff" stroke-width="0.8" fill="none" opacity="0.42"/>
<path d="M516.71 221L519.71 224L516.71 227L513.71 224Z" fill="#ffff55" stroke="#ffff55"/>
<path d="M515.41 222.5V225.5M518.01 222.5V225.5" stroke="#fff" stroke-width="0.8" fill="none" opacity="0.42"/>
<path d="M524.68 216.4L527.68 219.4L524.68 222.4L521.68 219.4Z" fill="#ffff55" stroke="#ffff55"/>
<path d="M523.38 217.9V220.9M525.98 217.9V220.9" stroke="#fff" stroke-width="0.8" fill="none" opacity="0.42"/>
<path d="M532.66 215.4L535.66 218.4L532.66 221.4L529.66 218.4Z" fill="#ffff55" stroke="#ffff55"/>
<path d="M531.36 216.9V219.9M533.96 216.9V219.9" stroke="#fff" stroke-width="0.8" fill="none" opacity="0.42"/>
<path d="M540.64 198L543.64 201L540.64 204L537.64 201Z" fill="#ffff55" stroke="#ffff55"/>
<path d="M539.34 199.5V202.5M541.94 199.5V202.5" stroke="#fff" stroke-width="0.8" fill="none" opacity="0.42"/>
<path d="M548.62 209.4L551.62 212.4L548.62 215.4L545.62 212.4Z" fill="#ffff55" stroke="#ffff55"/>
<path d="M547.32 210.9V213.9M549.92 210.9V213.9" stroke="#fff" stroke-width="0.8" fill="none" opacity="0.42"/>
<path d="M556.6 205.6L559.6 208.6L556.6 211.6L553.6 208.6Z" fill="#ffff55" stroke="#ffff55"/>
<path d="M555.3 207.1V210.1M557.9 207.1V210.1" stroke="#fff" stroke-width="0.8" fill="none" opacity="0.42"/>
<path d="M564.57 202L567.57 205L564.57 208L561.57 205Z" fill="#ffff55" stroke="#ffff55"/>
<path d="M563.27 203.5V206.5M565.87 203.5V206.5" stroke="#fff" stroke-width="0.8" fill="none" opacity="0.42"/>
<path d="M572.55 189L575.55 192L572.55 195L569.55 192Z" fill="#ffff55" stroke="#ffff55"/>
<path d="M571.25 190.5V193.5M573.85 190.5V193.5" stroke="#fff" stroke-width="0.8" fill="none" opacity="0.42"/>
<path d="M580.53 198.4L583.53 201.4L580.53 204.4L577.53 201.4Z" fill="#ffff55" stroke="#ffff55"/>
<path d="M579.23 199.9V202.9M581.83 199.9V202.9" stroke="#fff" stroke-width="0.8" fill="none" opacity="0.42"/>
<path d="M588.51 193L591.51 196L588.51 199L585.51 196Z" fill="#ffff55" stroke="#ffff55"/>
<path d="M587.21 194.5V197.5M589.81 194.5V197.5" stroke="#fff" stroke-width="0.8" fill="none" opacity="0.42"/>
<path d="M596.49 184.6L599.49 187.6L596.49 190.6L593.49 187.6Z" fill="#ffff55" stroke="#ffff55"/>
<path d="M595.19 186.1V189.1M597.79 186.1V189.1" stroke="#fff" stroke-width="0.8" fill="none" opacity="0.42"/>
<path d="M604.46 186L607.46 189L604.46 192L601.46 189Z" fill="#ffff55" stroke="#ffff55"/>
<path d="M603.16 187.5V190.5M605.76 187.5V190.5" stroke="#fff" stroke-width="0.8" fill="none" opacity="0.42"/>
<path d="M612.44 182.6L615.44 185.6L612.44 188.6L609.44 185.6Z" fill="#ffff55" stroke="#ffff55"/>
<path d="M611.14 184.1V187.1M613.74 184.1V187.1" stroke="#fff" stroke-width="0.8" fill="none" opacity="0.42"/>
<path d="M620.42 178L623.42 181L620.42 184L617.42 181Z" fill="#ffff55" stroke="#ffff55"/>
<path d="M619.12 179.5V182.5M621.72 179.5V182.5" stroke="#fff" stroke-width="0.8" fill="none" opacity="0.42"/>
<path d="M628.4 169.7L631.4 172.7L628.4 175.7L625.4 172.7Z" fill="#ffff55" stroke="#ffff55"/>
<path d="M627.1 171.2V174.2M629.7 171.2V174.2" stroke="#fff" stroke-width="0.8" fill="none" opacity="0.42"/>
<path d="M636.38 169.3L639.38 172.3L636.38 175.3L633.38 172.3Z" fill="#ffff55" stroke="#ffff55"/>
<path d="M635.08 170.8V173.8M637.68 170.8V173.8" stroke="#fff" stroke-width="0.8" fill="none" opacity="0.42"/>
<path d="M644.35 163.5L647.35 166.5L644.35 169.5L641.35 166.5Z" fill="#ffff55" stroke="#ffff55"/>
<path d="M643.05 165V168M645.65 165V168" stroke="#fff" stroke-width="0.8" fill="none" opacity="0.42"/>
<path d="M652.33 158.6L655.33 161.6L652.33 164.6L649.33 161.6Z" fill="#ffff55" stroke="#ffff55"/>
<path d="M651.03 160.1V163.1M653.63 160.1V163.1" stroke="#fff" stroke-width="0.8" fill="none" opacity="0.42"/>
<path d="M660.31 157L663.31 160L660.31 163L657.31 160Z" fill="#ffff55" stroke="#ffff55"/>
<path d="M659.01 158.5V161.5M661.61 158.5V161.5" stroke="#fff" stroke-width="0.8" fill="none" opacity="0.42"/>
<path d="M668.29 153L671.29 156L668.29 159L665.29 156Z" fill="#ffff55" stroke="#ffff55"/>
<path d="M666.99 154.5V157.5M669.59 154.5V157.5" stroke="#fff" stroke-width="0.8" fill="none" opacity="0.42"/>
<path d="M676.27 151.4L679.27 154.4L676.27 157.4L673.27 154.4Z" fill="#ffff55" stroke="#ffff55"/>
<path d="M674.97 152.9V155.9M677.57 152.9V155.9" stroke="#fff" stroke-width="0.8" fill="none" opacity="0.42"/>
<path d="M684.24 148.6L687.24 151.6L684.24 154.6L681.24 151.6Z" fill="#ffff55" stroke="#ffff55"/>
<path d="M682.94 150.1V153.1M685.54 150.1V153.1" stroke="#fff" stroke-width="0.8" fill="none" opacity="0.42"/>
<path d="M692.22 145L695.22 148L692.22 151L689.22 148Z" fill="#ffff55" stroke="#ffff55"/>
<path d="M690.92 146.5V149.5M693.52 146.5V149.5" stroke="#fff" stroke-width="0.8" fill="none" opacity="0.42"/>
<path d="M700.2 144L703.2 147L700.2 150L697.2 147Z" fill="#ffff55" stroke="#ffff55"/>
<path d="M698.9 145.5V148.5M701.5 145.5V148.5" stroke="#fff" stroke-width="0.8" fill="none" opacity="0.42"/>
<path d="M708.18 141.4L711.18 144.4L708.18 147.4L705.18 144.4Z" fill="#ffff55" stroke="#ffff55"/>
<path d="M706.88 142.9V145.9M709.48 142.9V145.9" stroke="#fff" stroke-width="0.8" fill="none" opacity="0.42"/>
<path d="M716.16 140L719.16 143L716.16 146L713.16 143Z" fill="#ffff55" stroke="#ffff55"/>
<path d="M714.86 141.5V144.5M717.46 141.5V144.5" stroke="#fff" stroke-width="0.8" fill="none" opacity="0.42"/>
<path d="M724.13 138.6L727.13 141.6L724.13 144.6L721.13 141.6Z" fill="#ffff55" stroke="#ffff55"/>
<path d="M722.83 140.1V143.1M725.43 140.1V143.1" stroke="#fff" stroke-width="0.8" fill="none" opacity="0.42"/>
<path d="M732.11 137L735.11 140L732.11 143L729.11 140Z" fill="#ffff55" stroke="#ffff55"/>
<path d="M730.81 138.5V141.5M733.41 138.5V141.5" stroke="#fff" stroke-width="0.8" fill="none" opacity="0.42"/>
<path d="M740.09 136.6L743.09 139.6L740.09 142.6L737.09 139.6Z" fill="#ffff55" stroke="#ffff55"/>
<path d="M738.79 138.1V141.1M741.39 138.1V141.1" stroke="#fff" stroke-width="0.8" fill="none" opacity="0.42"/>
<path d="M748.07 131.6L751.07 134.6L748.07 137.6L745.07 134.6Z" fill="#ffff55" stroke="#ffff55"/>
<path d="M746.77 133.1V136.1M749.37 133.1V136.1" stroke="#fff" stroke-width="0.8" fill="none" opacity="0.42"/>
<path d="M756.05 125.4L759.05 128.4L756.05 131.4L753.05 128.4Z" fill="#ffff55" stroke="#ffff55"/>
<path d="M754.75 126.9V129.9M757.35 126.9V129.9" stroke="#fff" stroke-width="0.8" fill="none" opacity="0.42"/>
<path d="M764.02 114.8L767.02 117.8L764.02 120.8L761.02 117.8Z" fill="#ffff55" stroke="#ffff55"/>
<path d="M762.72 116.3V119.3M765.32 116.3V119.3" stroke="#fff" stroke-width="0.8" fill="none" opacity="0.42"/>
<path d="M772 90L775 93L772 96L769 93Z" fill="#ffff55" stroke="#ffff55"/>
<path d="M770.7 91.5V94.5M773.3 91.5V94.5" stroke="#fff" stroke-width="0.8" fill="none" opacity="0.42"/>
<path d="M779.98 76.75L782.98 79.75L779.98 82.75L776.98 79.75Z" fill="#ffff55" stroke="#ffff55"/>
<path d="M778.68 78.25V81.25M781.28 78.25V81.25" stroke="#fff" stroke-width="0.8" fill="none" opacity="0.42"/>
<path d="M787.96 78.6L790.96 81.6L787.96 84.6L784.96 81.6Z" fill="#ffff55" stroke="#ffff55"/>
<path d="M786.66 80.1V83.1M789.26 80.1V83.1" stroke="#fff" stroke-width="0.8" fill="none" opacity="0.42"/>
<path d="M101.85 320.9V326.1" stroke="#ff55ff" stroke-width="1" fill="none" opacity="0.8"/>
<rect x="98.85" y="322" width="6" height="3" fill="#ff55ff" stroke="#ff55ff"/>
<path d="M100.55 322V325M103.15 322V325" stroke="#fff" stroke-width="0.8" fill="none" opacity="0.42"/>
<path d="M109.83 310.4V315.6" stroke="#ff55ff" stroke-width="1" fill="none" opacity="0.8"/>
<rect x="106.83" y="311.5" width="6" height="3" fill="#ff55ff" stroke="#ff55ff"/>
<path d="M108.53 311.5V314.5M111.13 311.5V314.5" stroke="#fff" stroke-width="0.8" fill="none" opacity="0.42"/>
<path d="M117.81 304.9V310.1" stroke="#ff55ff" stroke-width="1" fill="none" opacity="0.8"/>
<rect x="114.81" y="306" width="6" height="3" fill="#ff55ff" stroke="#ff55ff"/>
<path d="M116.51 306V309M119.11 306V309" stroke="#fff" stroke-width="0.8" fill="none" opacity="0.42"/>
<path d="M125.78 298.4V303.6" stroke="#ff55ff" stroke-width="1" fill="none" opacity="0.8"/>
<rect x="122.78" y="299.5" width="6" height="3" fill="#ff55ff" stroke="#ff55ff"/>
<path d="M124.48 299.5V302.5M127.08 299.5V302.5" stroke="#fff" stroke-width="0.8" fill="none" opacity="0.42"/>
<path d="M133.76 293.9V299.1" stroke="#ff55ff" stroke-width="1" fill="none" opacity="0.8"/>
<rect x="130.76" y="295" width="6" height="3" fill="#ff55ff" stroke="#ff55ff"/>
<path d="M132.46 295V298M135.06 295V298" stroke="#fff" stroke-width="0.8" fill="none" opacity="0.42"/>
<path d="M141.74 291V296.2" stroke="#ff55ff" stroke-width="1" fill="none" opacity="0.8"/>
<rect x="138.74" y="292.1" width="6" height="3" fill="#ff55ff" stroke="#ff55ff"/>
<path d="M140.44 292.1V295.1M143.04 292.1V295.1" stroke="#fff" stroke-width="0.8" fill="none" opacity="0.42"/>
<path d="M149.72 286.4V291.6" stroke="#ff55ff" stroke-width="1" fill="none" opacity="0.8"/>
<rect x="146.72" y="287.5" width="6" height="3" fill="#ff55ff" stroke="#ff55ff"/>
<path d="M148.42 287.5V290.5M151.02 287.5V290.5" stroke="#fff" stroke-width="0.8" fill="none" opacity="0.42"/>
<path d="M157.7 282.9V288.1" stroke="#ff55ff" stroke-width="1" fill="none" opacity="0.8"/>
<rect x="154.7" y="284" width="6" height="3" fill="#ff55ff" stroke="#ff55ff"/>
<path d="M156.4 284V287M159 284V287" stroke="#fff" stroke-width="0.8" fill="none" opacity="0.42"/>
<path d="M165.67 279.4V284.6" stroke="#ff55ff" stroke-width="1" fill="none" opacity="0.8"/>
<rect x="162.67" y="280.5" width="6" height="3" fill="#ff55ff" stroke="#ff55ff"/>
<path d="M164.37 280.5V283.5M166.97 280.5V283.5" stroke="#fff" stroke-width="0.8" fill="none" opacity="0.42"/>
<path d="M173.65 278.4V283.6" stroke="#ff55ff" stroke-width="1" fill="none" opacity="0.8"/>
<rect x="170.65" y="279.5" width="6" height="3" fill="#ff55ff" stroke="#ff55ff"/>
<path d="M172.35 279.5V282.5M174.95 279.5V282.5" stroke="#fff" stroke-width="0.8" fill="none" opacity="0.42"/>
<path d="M181.63 275.4V280.6" stroke="#ff55ff" stroke-width="1" fill="none" opacity="0.8"/>
<rect x="178.63" y="276.5" width="6" height="3" fill="#ff55ff" stroke="#ff55ff"/>
<path d="M180.33 276.5V279.5M182.93 276.5V279.5" stroke="#fff" stroke-width="0.8" fill="none" opacity="0.42"/>
<path d="M189.61 273.2V278.4" stroke="#ff55ff" stroke-width="1" fill="none" opacity="0.8"/>
<rect x="186.61" y="274.3" width="6" height="3" fill="#ff55ff" stroke="#ff55ff"/>
<path d="M188.31 274.3V277.3M190.91 274.3V277.3" stroke="#fff" stroke-width="0.8" fill="none" opacity="0.42"/>
<path d="M197.59 271.2V276.4" stroke="#ff55ff" stroke-width="1" fill="none" opacity="0.8"/>
<rect x="194.59" y="272.3" width="6" height="3" fill="#ff55ff" stroke="#ff55ff"/>
<path d="M196.29 272.3V275.3M198.89 272.3V275.3" stroke="#fff" stroke-width="0.8" fill="none" opacity="0.42"/>
<path d="M205.56 270.2V275.4" stroke="#ff55ff" stroke-width="1" fill="none" opacity="0.8"/>
<rect x="202.56" y="271.3" width="6" height="3" fill="#ff55ff" stroke="#ff55ff"/>
<path d="M204.26 271.3V274.3M206.86 271.3V274.3" stroke="#fff" stroke-width="0.8" fill="none" opacity="0.42"/>
<path d="M213.54 268.2V273.4" stroke="#ff55ff" stroke-width="1" fill="none" opacity="0.8"/>
<rect x="210.54" y="269.3" width="6" height="3" fill="#ff55ff" stroke="#ff55ff"/>
<path d="M212.24 269.3V272.3M214.84 269.3V272.3" stroke="#fff" stroke-width="0.8" fill="none" opacity="0.42"/>
<path d="M221.52 267.6V272.8" stroke="#ff55ff" stroke-width="1" fill="none" opacity="0.8"/>
<rect x="218.52" y="268.7" width="6" height="3" fill="#ff55ff" stroke="#ff55ff"/>
<path d="M220.22 268.7V271.7M222.82 268.7V271.7" stroke="#fff" stroke-width="0.8" fill="none" opacity="0.42"/>
<path d="M229.5 265.1V270.3" stroke="#ff55ff" stroke-width="1" fill="none" opacity="0.8"/>
<rect x="226.5" y="266.2" width="6" height="3" fill="#ff55ff" stroke="#ff55ff"/>
<path d="M228.2 266.2V269.2M230.8 266.2V269.2" stroke="#fff" stroke-width="0.8" fill="none" opacity="0.42"/>
<path d="M237.48 264.2V269.4" stroke="#ff55ff" stroke-width="1" fill="none" opacity="0.8"/>
<rect x="234.48" y="265.3" width="6" height="3" fill="#ff55ff" stroke="#ff55ff"/>
<path d="M236.18 265.3V268.3M238.78 265.3V268.3" stroke="#fff" stroke-width="0.8" fill="none" opacity="0.42"/>
<path d="M245.45 261.2V266.4" stroke="#ff55ff" stroke-width="1" fill="none" opacity="0.8"/>
<rect x="242.45" y="262.3" width="6" height="3" fill="#ff55ff" stroke="#ff55ff"/>
<path d="M244.15 262.3V265.3M246.75 262.3V265.3" stroke="#fff" stroke-width="0.8" fill="none" opacity="0.42"/>
<path d="M253.43 260.9V266.1" stroke="#ff55ff" stroke-width="1" fill="none" opacity="0.8"/>
<rect x="250.43" y="262" width="6" height="3" fill="#ff55ff" stroke="#ff55ff"/>
<path d="M252.13 262V265M254.73 262V265" stroke="#fff" stroke-width="0.8" fill="none" opacity="0.42"/>
<path d="M261.41 258.6V263.8" stroke="#ff55ff" stroke-width="1" fill="none" opacity="0.8"/>
<rect x="258.41" y="259.7" width="6" height="3" fill="#ff55ff" stroke="#ff55ff"/>
<path d="M260.11 259.7V262.7M262.71 259.7V262.7" stroke="#fff" stroke-width="0.8" fill="none" opacity="0.42"/>
<path d="M269.39 256.9V262.1" stroke="#ff55ff" stroke-width="1" fill="none" opacity="0.8"/>
<rect x="266.39" y="258" width="6" height="3" fill="#ff55ff" stroke="#ff55ff"/>
<path d="M268.09 258V261M270.69 258V261" stroke="#fff" stroke-width="0.8" fill="none" opacity="0.42"/>
<path d="M277.37 176V181.2" stroke="#ff55ff" stroke-width="1" fill="none" opacity="0.8"/>
<rect x="274.37" y="177.1" width="6" height="3" fill="#ff55ff" stroke="#ff55ff"/>
<path d="M276.07 177.1V180.1M278.67 177.1V180.1" stroke="#fff" stroke-width="0.8" fill="none" opacity="0.42"/>
<path d="M285.34 253.9V259.1" stroke="#ff55ff" stroke-width="1" fill="none" opacity="0.8"/>
<rect x="282.34" y="255" width="6" height="3" fill="#ff55ff" stroke="#ff55ff"/>
<path d="M284.04 255V258M286.64 255V258" stroke="#fff" stroke-width="0.8" fill="none" opacity="0.42"/>
<path d="M293.32 250.1V255.3" stroke="#ff55ff" stroke-width="1" fill="none" opacity="0.8"/>
<rect x="290.32" y="251.2" width="6" height="3" fill="#ff55ff" stroke="#ff55ff"/>
<path d="M292.02 251.2V254.2M294.62 251.2V254.2" stroke="#fff" stroke-width="0.8" fill="none" opacity="0.42"/>
<path d="M301.3 244.4V249.6" stroke="#ff55ff" stroke-width="1" fill="none" opacity="0.8"/>
<rect x="298.3" y="245.5" width="6" height="3" fill="#ff55ff" stroke="#ff55ff"/>
<path d="M300 245.5V248.5M302.6 245.5V248.5" stroke="#fff" stroke-width="0.8" fill="none" opacity="0.42"/>
<path d="M309.28 241.4V246.6" stroke="#ff55ff" stroke-width="1" fill="none" opacity="0.8"/>
<rect x="306.28" y="242.5" width="6" height="3" fill="#ff55ff" stroke="#ff55ff"/>
<path d="M307.98 242.5V245.5M310.58 242.5V245.5" stroke="#fff" stroke-width="0.8" fill="none" opacity="0.42"/>
<path d="M317.26 238.6V243.8" stroke="#ff55ff" stroke-width="1" fill="none" opacity="0.8"/>
<rect x="314.26" y="239.7" width="6" height="3" fill="#ff55ff" stroke="#ff55ff"/>
<path d="M315.96 239.7V242.7M318.56 239.7V242.7" stroke="#fff" stroke-width="0.8" fill="none" opacity="0.42"/>
<path d="M325.23 231.4V236.6" stroke="#ff55ff" stroke-width="1" fill="none" opacity="0.8"/>
<rect x="322.23" y="232.5" width="6" height="3" fill="#ff55ff" stroke="#ff55ff"/>
<path d="M323.93 232.5V235.5M326.53 232.5V235.5" stroke="#fff" stroke-width="0.8" fill="none" opacity="0.42"/>
<path d="M333.21 231.4V236.6" stroke="#ff55ff" stroke-width="1" fill="none" opacity="0.8"/>
<rect x="330.21" y="232.5" width="6" height="3" fill="#ff55ff" stroke="#ff55ff"/>
<path d="M331.91 232.5V235.5M334.51 232.5V235.5" stroke="#fff" stroke-width="0.8" fill="none" opacity="0.42"/>
<path d="M341.19 178.8V184" stroke="#ff55ff" stroke-width="1" fill="none" opacity="0.8"/>
<rect x="338.19" y="179.9" width="6" height="3" fill="#ff55ff" stroke="#ff55ff"/>
<path d="M339.89 179.9V182.9M342.49 179.9V182.9" stroke="#fff" stroke-width="0.8" fill="none" opacity="0.42"/>
<path d="M349.17 223.4V228.6" stroke="#ff55ff" stroke-width="1" fill="none" opacity="0.8"/>
<rect x="346.17" y="224.5" width="6" height="3" fill="#ff55ff" stroke="#ff55ff"/>
<path d="M347.87 224.5V227.5M350.47 224.5V227.5" stroke="#fff" stroke-width="0.8" fill="none" opacity="0.42"/>
<path d="M357.15 223.4V228.6" stroke="#ff55ff" stroke-width="1" fill="none" opacity="0.8"/>
<rect x="354.15" y="224.5" width="6" height="3" fill="#ff55ff" stroke="#ff55ff"/>
<path d="M355.85 224.5V227.5M358.45 224.5V227.5" stroke="#fff" stroke-width="0.8" fill="none" opacity="0.42"/>
<path d="M365.12 220.4V225.6" stroke="#ff55ff" stroke-width="1" fill="none" opacity="0.8"/>
<rect x="362.12" y="221.5" width="6" height="3" fill="#ff55ff" stroke="#ff55ff"/>
<path d="M363.82 221.5V224.5M366.42 221.5V224.5" stroke="#fff" stroke-width="0.8" fill="none" opacity="0.42"/>
<path d="M373.1 217.4V222.6" stroke="#ff55ff" stroke-width="1" fill="none" opacity="0.8"/>
<rect x="370.1" y="218.5" width="6" height="3" fill="#ff55ff" stroke="#ff55ff"/>
<path d="M371.8 218.5V221.5M374.4 218.5V221.5" stroke="#fff" stroke-width="0.8" fill="none" opacity="0.42"/>
<path d="M381.08 214.4V219.6" stroke="#ff55ff" stroke-width="1" fill="none" opacity="0.8"/>
<rect x="378.08" y="215.5" width="6" height="3" fill="#ff55ff" stroke="#ff55ff"/>
<path d="M379.78 215.5V218.5M382.38 215.5V218.5" stroke="#fff" stroke-width="0.8" fill="none" opacity="0.42"/>
<path d="M389.06 206.8V212" stroke="#ff55ff" stroke-width="1" fill="none" opacity="0.8"/>
<rect x="386.06" y="207.9" width="6" height="3" fill="#ff55ff" stroke="#ff55ff"/>
<path d="M387.76 207.9V210.9M390.36 207.9V210.9" stroke="#fff" stroke-width="0.8" fill="none" opacity="0.42"/>
<path d="M397.04 196.4V201.6" stroke="#ff55ff" stroke-width="1" fill="none" opacity="0.8"/>
<rect x="394.04" y="197.5" width="6" height="3" fill="#ff55ff" stroke="#ff55ff"/>
<path d="M395.74 197.5V200.5M398.34 197.5V200.5" stroke="#fff" stroke-width="0.8" fill="none" opacity="0.42"/>
<path d="M405.01 211.8V217" stroke="#ff55ff" stroke-width="1" fill="none" opacity="0.8"/>
<rect x="402.01" y="212.9" width="6" height="3" fill="#ff55ff" stroke="#ff55ff"/>
<path d="M403.71 212.9V215.9M406.31 212.9V215.9" stroke="#fff" stroke-width="0.8" fill="none" opacity="0.42"/>
<path d="M412.99 211V216.2" stroke="#ff55ff" stroke-width="1" fill="none" opacity="0.8"/>
<rect x="409.99" y="212.1" width="6" height="3" fill="#ff55ff" stroke="#ff55ff"/>
<path d="M411.69 212.1V215.1M414.29 212.1V215.1" stroke="#fff" stroke-width="0.8" fill="none" opacity="0.42"/>
<path d="M420.97 206.6V211.8" stroke="#ff55ff" stroke-width="1" fill="none" opacity="0.8"/>
<rect x="417.97" y="207.7" width="6" height="3" fill="#ff55ff" stroke="#ff55ff"/>
<path d="M419.67 207.7V210.7M422.27 207.7V210.7" stroke="#fff" stroke-width="0.8" fill="none" opacity="0.42"/>
<path d="M428.95 204.9V210.1" stroke="#ff55ff" stroke-width="1" fill="none" opacity="0.8"/>
<rect x="425.95" y="206" width="6" height="3" fill="#ff55ff" stroke="#ff55ff"/>
<path d="M427.65 206V209M430.25 206V209" stroke="#fff" stroke-width="0.8" fill="none" opacity="0.42"/>
<path d="M436.93 173.8V179" stroke="#ff55ff" stroke-width="1" fill="none" opacity="0.8"/>
<rect x="433.93" y="174.9" width="6" height="3" fill="#ff55ff" stroke="#ff55ff"/>
<path d="M435.63 174.9V177.9M438.23 174.9V177.9" stroke="#fff" stroke-width="0.8" fill="none" opacity="0.42"/>
<path d="M444.9 204.6V209.8" stroke="#ff55ff" stroke-width="1" fill="none" opacity="0.8"/>
<rect x="441.9" y="205.7" width="6" height="3" fill="#ff55ff" stroke="#ff55ff"/>
<path d="M443.6 205.7V208.7M446.2 205.7V208.7" stroke="#fff" stroke-width="0.8" fill="none" opacity="0.42"/>
<path d="M452.88 202.9V208.1" stroke="#ff55ff" stroke-width="1" fill="none" opacity="0.8"/>
<rect x="449.88" y="204" width="6" height="3" fill="#ff55ff" stroke="#ff55ff"/>
<path d="M451.58 204V207M454.18 204V207" stroke="#fff" stroke-width="0.8" fill="none" opacity="0.42"/>
<path d="M460.86 203V208.2" stroke="#ff55ff" stroke-width="1" fill="none" opacity="0.8"/>
<rect x="457.86" y="204.1" width="6" height="3" fill="#ff55ff" stroke="#ff55ff"/>
<path d="M459.56 204.1V207.1M462.16 204.1V207.1" stroke="#fff" stroke-width="0.8" fill="none" opacity="0.42"/>
<path d="M468.84 197.8V203" stroke="#ff55ff" stroke-width="1" fill="none" opacity="0.8"/>
<rect x="465.84" y="198.9" width="6" height="3" fill="#ff55ff" stroke="#ff55ff"/>
<path d="M467.54 198.9V201.9M470.14 198.9V201.9" stroke="#fff" stroke-width="0.8" fill="none" opacity="0.42"/>
<path d="M476.82 173.8V179" stroke="#ff55ff" stroke-width="1" fill="none" opacity="0.8"/>
<rect x="473.82" y="174.9" width="6" height="3" fill="#ff55ff" stroke="#ff55ff"/>
<path d="M475.52 174.9V177.9M478.12 174.9V177.9" stroke="#fff" stroke-width="0.8" fill="none" opacity="0.42"/>
<path d="M484.79 199.4V204.6" stroke="#ff55ff" stroke-width="1" fill="none" opacity="0.8"/>
<rect x="481.79" y="200.5" width="6" height="3" fill="#ff55ff" stroke="#ff55ff"/>
<path d="M483.49 200.5V203.5M486.09 200.5V203.5" stroke="#fff" stroke-width="0.8" fill="none" opacity="0.42"/>
<path d="M492.77 199V204.2" stroke="#ff55ff" stroke-width="1" fill="none" opacity="0.8"/>
<rect x="489.77" y="200.1" width="6" height="3" fill="#ff55ff" stroke="#ff55ff"/>
<path d="M491.47 200.1V203.1M494.07 200.1V203.1" stroke="#fff" stroke-width="0.8" fill="none" opacity="0.42"/>
<path d="M500.75 197.9V203.1" stroke="#ff55ff" stroke-width="1" fill="none" opacity="0.8"/>
<rect x="497.75" y="199" width="6" height="3" fill="#ff55ff" stroke="#ff55ff"/>
<path d="M499.45 199V202M502.05 199V202" stroke="#fff" stroke-width="0.8" fill="none" opacity="0.42"/>
<path d="M508.73 163V168.2" stroke="#ff55ff" stroke-width="1" fill="none" opacity="0.8"/>
<rect x="505.73" y="164.1" width="6" height="3" fill="#ff55ff" stroke="#ff55ff"/>
<path d="M507.43 164.1V167.1M510.03 164.1V167.1" stroke="#fff" stroke-width="0.8" fill="none" opacity="0.42"/>
<path d="M516.71 196V201.2" stroke="#ff55ff" stroke-width="1" fill="none" opacity="0.8"/>
<rect x="513.71" y="197.1" width="6" height="3" fill="#ff55ff" stroke="#ff55ff"/>
<path d="M515.41 197.1V200.1M518.01 197.1V200.1" stroke="#fff" stroke-width="0.8" fill="none" opacity="0.42"/>
<path d="M524.68 194.4V199.6" stroke="#ff55ff" stroke-width="1" fill="none" opacity="0.8"/>
<rect x="521.68" y="195.5" width="6" height="3" fill="#ff55ff" stroke="#ff55ff"/>
<path d="M523.38 195.5V198.5M525.98 195.5V198.5" stroke="#fff" stroke-width="0.8" fill="none" opacity="0.42"/>
<path d="M532.66 194.8V200" stroke="#ff55ff" stroke-width="1" fill="none" opacity="0.8"/>
<rect x="529.66" y="195.9" width="6" height="3" fill="#ff55ff" stroke="#ff55ff"/>
<path d="M531.36 195.9V198.9M533.96 195.9V198.9" stroke="#fff" stroke-width="0.8" fill="none" opacity="0.42"/>
<path d="M540.64 159.4V164.6" stroke="#ff55ff" stroke-width="1" fill="none" opacity="0.8"/>
<rect x="537.64" y="160.5" width="6" height="3" fill="#ff55ff" stroke="#ff55ff"/>
<path d="M539.34 160.5V163.5M541.94 160.5V163.5" stroke="#fff" stroke-width="0.8" fill="none" opacity="0.42"/>
<path d="M548.62 191.8V197" stroke="#ff55ff" stroke-width="1" fill="none" opacity="0.8"/>
<rect x="545.62" y="192.9" width="6" height="3" fill="#ff55ff" stroke="#ff55ff"/>
<path d="M547.32 192.9V195.9M549.92 192.9V195.9" stroke="#fff" stroke-width="0.8" fill="none" opacity="0.42"/>
<path d="M556.6 190V195.2" stroke="#ff55ff" stroke-width="1" fill="none" opacity="0.8"/>
<rect x="553.6" y="191.1" width="6" height="3" fill="#ff55ff" stroke="#ff55ff"/>
<path d="M555.3 191.1V194.1M557.9 191.1V194.1" stroke="#fff" stroke-width="0.8" fill="none" opacity="0.42"/>
<path d="M564.57 185.4V190.6" stroke="#ff55ff" stroke-width="1" fill="none" opacity="0.8"/>
<rect x="561.57" y="186.5" width="6" height="3" fill="#ff55ff" stroke="#ff55ff"/>
<path d="M563.27 186.5V189.5M565.87 186.5V189.5" stroke="#fff" stroke-width="0.8" fill="none" opacity="0.42"/>
<path d="M572.55 161V166.2" stroke="#ff55ff" stroke-width="1" fill="none" opacity="0.8"/>
<rect x="569.55" y="162.1" width="6" height="3" fill="#ff55ff" stroke="#ff55ff"/>
<path d="M571.25 162.1V165.1M573.85 162.1V165.1" stroke="#fff" stroke-width="0.8" fill="none" opacity="0.42"/>
<path d="M580.53 186V191.2" stroke="#ff55ff" stroke-width="1" fill="none" opacity="0.8"/>
<rect x="577.53" y="187.1" width="6" height="3" fill="#ff55ff" stroke="#ff55ff"/>
<path d="M579.23 187.1V190.1M581.83 187.1V190.1" stroke="#fff" stroke-width="0.8" fill="none" opacity="0.42"/>
<path d="M588.51 183V188.2" stroke="#ff55ff" stroke-width="1" fill="none" opacity="0.8"/>
<rect x="585.51" y="184.1" width="6" height="3" fill="#ff55ff" stroke="#ff55ff"/>
<path d="M587.21 184.1V187.1M589.81 184.1V187.1" stroke="#fff" stroke-width="0.8" fill="none" opacity="0.42"/>
<path d="M596.49 158V163.2" stroke="#ff55ff" stroke-width="1" fill="none" opacity="0.8"/>
<rect x="593.49" y="159.1" width="6" height="3" fill="#ff55ff" stroke="#ff55ff"/>
<path d="M595.19 159.1V162.1M597.79 159.1V162.1" stroke="#fff" stroke-width="0.8" fill="none" opacity="0.42"/>
<path d="M604.46 173.9V179.1" stroke="#ff55ff" stroke-width="1" fill="none" opacity="0.8"/>
<rect x="601.46" y="175" width="6" height="3" fill="#ff55ff" stroke="#ff55ff"/>
<path d="M603.16 175V178M605.76 175V178" stroke="#fff" stroke-width="0.8" fill="none" opacity="0.42"/>
<path d="M612.44 176.4V181.6" stroke="#ff55ff" stroke-width="1" fill="none" opacity="0.8"/>
<rect x="609.44" y="177.5" width="6" height="3" fill="#ff55ff" stroke="#ff55ff"/>
<path d="M611.14 177.5V180.5M613.74 177.5V180.5" stroke="#fff" stroke-width="0.8" fill="none" opacity="0.42"/>
<path d="M620.42 166.6V171.8" stroke="#ff55ff" stroke-width="1" fill="none" opacity="0.8"/>
<rect x="617.42" y="167.7" width="6" height="3" fill="#ff55ff" stroke="#ff55ff"/>
<path d="M619.12 167.7V170.7M621.72 167.7V170.7" stroke="#fff" stroke-width="0.8" fill="none" opacity="0.42"/>
<path d="M628.4 155.8V161" stroke="#ff55ff" stroke-width="1" fill="none" opacity="0.8"/>
<rect x="625.4" y="156.9" width="6" height="3" fill="#ff55ff" stroke="#ff55ff"/>
<path d="M627.1 156.9V159.9M629.7 156.9V159.9" stroke="#fff" stroke-width="0.8" fill="none" opacity="0.42"/>
<path d="M636.38 164.4V169.6" stroke="#ff55ff" stroke-width="1" fill="none" opacity="0.8"/>
<rect x="633.38" y="165.5" width="6" height="3" fill="#ff55ff" stroke="#ff55ff"/>
<path d="M635.08 165.5V168.5M637.68 165.5V168.5" stroke="#fff" stroke-width="0.8" fill="none" opacity="0.42"/>
<path d="M644.35 156.8V162" stroke="#ff55ff" stroke-width="1" fill="none" opacity="0.8"/>
<rect x="641.35" y="157.9" width="6" height="3" fill="#ff55ff" stroke="#ff55ff"/>
<path d="M643.05 157.9V160.9M645.65 157.9V160.9" stroke="#fff" stroke-width="0.8" fill="none" opacity="0.42"/>
<path d="M652.33 149.8V155" stroke="#ff55ff" stroke-width="1" fill="none" opacity="0.8"/>
<rect x="649.33" y="150.9" width="6" height="3" fill="#ff55ff" stroke="#ff55ff"/>
<path d="M651.03 150.9V153.9M653.63 150.9V153.9" stroke="#fff" stroke-width="0.8" fill="none" opacity="0.42"/>
<path d="M660.31 154V159.2" stroke="#ff55ff" stroke-width="1" fill="none" opacity="0.8"/>
<rect x="657.31" y="155.1" width="6" height="3" fill="#ff55ff" stroke="#ff55ff"/>
<path d="M659.01 155.1V158.1M661.61 155.1V158.1" stroke="#fff" stroke-width="0.8" fill="none" opacity="0.42"/>
<path d="M668.29 144.4V149.6" stroke="#ff55ff" stroke-width="1" fill="none" opacity="0.8"/>
<rect x="665.29" y="145.5" width="6" height="3" fill="#ff55ff" stroke="#ff55ff"/>
<path d="M666.99 145.5V148.5M669.59 145.5V148.5" stroke="#fff" stroke-width="0.8" fill="none" opacity="0.42"/>
<path d="M676.27 147.4V152.6" stroke="#ff55ff" stroke-width="1" fill="none" opacity="0.8"/>
<rect x="673.27" y="148.5" width="6" height="3" fill="#ff55ff" stroke="#ff55ff"/>
<path d="M674.97 148.5V151.5M677.57 148.5V151.5" stroke="#fff" stroke-width="0.8" fill="none" opacity="0.42"/>
<path d="M684.24 147V152.2" stroke="#ff55ff" stroke-width="1" fill="none" opacity="0.8"/>
<rect x="681.24" y="148.1" width="6" height="3" fill="#ff55ff" stroke="#ff55ff"/>
<path d="M682.94 148.1V151.1M685.54 148.1V151.1" stroke="#fff" stroke-width="0.8" fill="none" opacity="0.42"/>
<path d="M692.22 138.8V144" stroke="#ff55ff" stroke-width="1" fill="none" opacity="0.8"/>
<rect x="689.22" y="139.9" width="6" height="3" fill="#ff55ff" stroke="#ff55ff"/>
<path d="M690.92 139.9V142.9M693.52 139.9V142.9" stroke="#fff" stroke-width="0.8" fill="none" opacity="0.42"/>
<path d="M700.2 142.8V148" stroke="#ff55ff" stroke-width="1" fill="none" opacity="0.8"/>
<rect x="697.2" y="143.9" width="6" height="3" fill="#ff55ff" stroke="#ff55ff"/>
<path d="M698.9 143.9V146.9M701.5 143.9V146.9" stroke="#fff" stroke-width="0.8" fill="none" opacity="0.42"/>
<path d="M708.18 135.8V141" stroke="#ff55ff" stroke-width="1" fill="none" opacity="0.8"/>
<rect x="705.18" y="136.9" width="6" height="3" fill="#ff55ff" stroke="#ff55ff"/>
<path d="M706.88 136.9V139.9M709.48 136.9V139.9" stroke="#fff" stroke-width="0.8" fill="none" opacity="0.42"/>
<path d="M716.16 139.6V144.8" stroke="#ff55ff" stroke-width="1" fill="none" opacity="0.8"/>
<rect x="713.16" y="140.7" width="6" height="3" fill="#ff55ff" stroke="#ff55ff"/>
<path d="M714.86 140.7V143.7M717.46 140.7V143.7" stroke="#fff" stroke-width="0.8" fill="none" opacity="0.42"/>
<path d="M724.13 135.4V140.6" stroke="#ff55ff" stroke-width="1" fill="none" opacity="0.8"/>
<rect x="721.13" y="136.5" width="6" height="3" fill="#ff55ff" stroke="#ff55ff"/>
<path d="M722.83 136.5V139.5M725.43 136.5V139.5" stroke="#fff" stroke-width="0.8" fill="none" opacity="0.42"/>
<path d="M732.11 132.4V137.6" stroke="#ff55ff" stroke-width="1" fill="none" opacity="0.8"/>
<rect x="729.11" y="133.5" width="6" height="3" fill="#ff55ff" stroke="#ff55ff"/>
<path d="M730.81 133.5V136.5M733.41 133.5V136.5" stroke="#fff" stroke-width="0.8" fill="none" opacity="0.42"/>
<path d="M740.09 132.4V137.6" stroke="#ff55ff" stroke-width="1" fill="none" opacity="0.8"/>
<rect x="737.09" y="133.5" width="6" height="3" fill="#ff55ff" stroke="#ff55ff"/>
<path d="M738.79 133.5V136.5M741.39 133.5V136.5" stroke="#fff" stroke-width="0.8" fill="none" opacity="0.42"/>
<path d="M748.07 126V131.2" stroke="#ff55ff" stroke-width="1" fill="none" opacity="0.8"/>
<rect x="745.07" y="127.1" width="6" height="3" fill="#ff55ff" stroke="#ff55ff"/>
<path d="M746.77 127.1V130.1M749.37 127.1V130.1" stroke="#fff" stroke-width="0.8" fill="none" opacity="0.42"/>
<path d="M756.05 118.4V123.6" stroke="#ff55ff" stroke-width="1" fill="none" opacity="0.8"/>
<rect x="753.05" y="119.5" width="6" height="3" fill="#ff55ff" stroke="#ff55ff"/>
<path d="M754.75 119.5V122.5M757.35 119.5V122.5" stroke="#fff" stroke-width="0.8" fill="none" opacity="0.42"/>
<path d="M764.02 104.7V109.9" stroke="#ff55ff" stroke-width="1" fill="none" opacity="0.8"/>
<rect x="761.02" y="105.8" width="6" height="3" fill="#ff55ff" stroke="#ff55ff"/>
<path d="M762.72 105.8V108.8M765.32 105.8V108.8" stroke="#fff" stroke-width="0.8" fill="none" opacity="0.42"/>
<path d="M772 77.4V82.6" stroke="#ff55ff" stroke-width="1" fill="none" opacity="0.8"/>
<rect x="769" y="78.5" width="6" height="3" fill="#ff55ff" stroke="#ff55ff"/>
<path d="M770.7 78.5V81.5M773.3 78.5V81.5" stroke="#fff" stroke-width="0.8" fill="none" opacity="0.42"/>
<path d="M779.98 62.8V68" stroke="#ff55ff" stroke-width="1" fill="none" opacity="0.8"/>
<rect x="776.98" y="63.9" width="6" height="3" fill="#ff55ff" stroke="#ff55ff"/>
<path d="M778.68 63.9V66.9M781.28 63.9V66.9" stroke="#fff" stroke-width="0.8" fill="none" opacity="0.42"/>
<path d="M787.96 68.3V73.5" stroke="#ff55ff" stroke-width="1" fill="none" opacity="0.8"/>
<rect x="784.96" y="69.4" width="6" height="3" fill="#ff55ff" stroke="#ff55ff"/>
<path d="M786.66 69.4V72.4M789.26 69.4V72.4" stroke="#fff" stroke-width="0.8" fill="none" opacity="0.42"/>
<path d="M109.83 318L112.83 324L106.83 324Z" fill="#55ff55" stroke="#55ff55"/>
<path d="M108.53 320V323M111.13 320V323" stroke="#fff" stroke-width="0.8" fill="none" opacity="0.42"/>
<path d="M117.81 310.5L120.81 316.5L114.81 316.5Z" fill="#55ff55" stroke="#55ff55"/>
<path d="M116.51 312.5V315.5M119.11 312.5V315.5" stroke="#fff" stroke-width="0.8" fill="none" opacity="0.42"/>
<path d="M125.78 304.5L128.78 310.5L122.78 310.5Z" fill="#55ff55" stroke="#55ff55"/>
<path d="M124.48 306.5V309.5M127.08 306.5V309.5" stroke="#fff" stroke-width="0.8" fill="none" opacity="0.42"/>
<path d="M133.76 299L136.76 305L130.76 305Z" fill="#55ff55" stroke="#55ff55"/>
<path d="M132.46 301V304M135.06 301V304" stroke="#fff" stroke-width="0.8" fill="none" opacity="0.42"/>
<path d="M141.74 295.5L144.74 301.5L138.74 301.5Z" fill="#55ff55" stroke="#55ff55"/>
<path d="M140.44 297.5V300.5M143.04 297.5V300.5" stroke="#fff" stroke-width="0.8" fill="none" opacity="0.42"/>
<path d="M149.72 292L152.72 298L146.72 298Z" fill="#55ff55" stroke="#55ff55"/>
<path d="M148.42 294V297M151.02 294V297" stroke="#fff" stroke-width="0.8" fill="none" opacity="0.42"/>
<path d="M157.7 288.5L160.7 294.5L154.7 294.5Z" fill="#55ff55" stroke="#55ff55"/>
<path d="M156.4 290.5V293.5M159 290.5V293.5" stroke="#fff" stroke-width="0.8" fill="none" opacity="0.42"/>
<path d="M165.67 285L168.67 291L162.67 291Z" fill="#55ff55" stroke="#55ff55"/>
<path d="M164.37 287V290M166.97 287V290" stroke="#fff" stroke-width="0.8" fill="none" opacity="0.42"/>
<path d="M173.65 283.5L176.65 289.5L170.65 289.5Z" fill="#55ff55" stroke="#55ff55"/>
<path d="M172.35 285.5V288.5M174.95 285.5V288.5" stroke="#fff" stroke-width="0.8" fill="none" opacity="0.42"/>
<path d="M181.63 281.2L184.63 287.2L178.63 287.2Z" fill="#55ff55" stroke="#55ff55"/>
<path d="M180.33 283.2V286.2M182.93 283.2V286.2" stroke="#fff" stroke-width="0.8" fill="none" opacity="0.42"/>
<path d="M189.61 278.5L192.61 284.5L186.61 284.5Z" fill="#55ff55" stroke="#55ff55"/>
<path d="M188.31 280.5V283.5M190.91 280.5V283.5" stroke="#fff" stroke-width="0.8" fill="none" opacity="0.42"/>
<path d="M197.59 277L200.59 283L194.59 283Z" fill="#55ff55" stroke="#55ff55"/>
<path d="M196.29 279V282M198.89 279V282" stroke="#fff" stroke-width="0.8" fill="none" opacity="0.42"/>
<path d="M205.56 275L208.56 281L202.56 281Z" fill="#55ff55" stroke="#55ff55"/>
<path d="M204.26 277V280M206.86 277V280" stroke="#fff" stroke-width="0.8" fill="none" opacity="0.42"/>
<path d="M213.54 273.7L216.54 279.7L210.54 279.7Z" fill="#55ff55" stroke="#55ff55"/>
<path d="M212.24 275.7V278.7M214.84 275.7V278.7" stroke="#fff" stroke-width="0.8" fill="none" opacity="0.42"/>
<path d="M221.52 273L224.52 279L218.52 279Z" fill="#55ff55" stroke="#55ff55"/>
<path d="M220.22 275V278M222.82 275V278" stroke="#fff" stroke-width="0.8" fill="none" opacity="0.42"/>
<path d="M229.5 270.8L232.5 276.8L226.5 276.8Z" fill="#55ff55" stroke="#55ff55"/>
<path d="M228.2 272.8V275.8M230.8 272.8V275.8" stroke="#fff" stroke-width="0.8" fill="none" opacity="0.42"/>
<path d="M237.48 269.7L240.48 275.7L234.48 275.7Z" fill="#55ff55" stroke="#55ff55"/>
<path d="M236.18 271.7V274.7M238.78 271.7V274.7" stroke="#fff" stroke-width="0.8" fill="none" opacity="0.42"/>
<path d="M245.45 268L248.45 274L242.45 274Z" fill="#55ff55" stroke="#55ff55"/>
<path d="M244.15 270V273M246.75 270V273" stroke="#fff" stroke-width="0.8" fill="none" opacity="0.42"/>
<path d="M253.43 267L256.43 273L250.43 273Z" fill="#55ff55" stroke="#55ff55"/>
<path d="M252.13 269V272M254.73 269V272" stroke="#fff" stroke-width="0.8" fill="none" opacity="0.42"/>
<path d="M261.41 266L264.41 272L258.41 272Z" fill="#55ff55" stroke="#55ff55"/>
<path d="M260.11 268V271M262.71 268V271" stroke="#fff" stroke-width="0.8" fill="none" opacity="0.42"/>
<path d="M269.39 265L272.39 271L266.39 271Z" fill="#55ff55" stroke="#55ff55"/>
<path d="M268.09 267V270M270.69 267V270" stroke="#fff" stroke-width="0.8" fill="none" opacity="0.42"/>
<path d="M277.37 263.2L280.37 269.2L274.37 269.2Z" fill="#55ff55" stroke="#55ff55"/>
<path d="M276.07 265.2V268.2M278.67 265.2V268.2" stroke="#fff" stroke-width="0.8" fill="none" opacity="0.42"/>
<path d="M285.34 262.5L288.34 268.5L282.34 268.5Z" fill="#55ff55" stroke="#55ff55"/>
<path d="M284.04 264.5V267.5M286.64 264.5V267.5" stroke="#fff" stroke-width="0.8" fill="none" opacity="0.42"/>
<path d="M293.32 261.2L296.32 267.2L290.32 267.2Z" fill="#55ff55" stroke="#55ff55"/>
<path d="M292.02 263.2V266.2M294.62 263.2V266.2" stroke="#fff" stroke-width="0.8" fill="none" opacity="0.42"/>
<path d="M301.3 260L304.3 266L298.3 266Z" fill="#55ff55" stroke="#55ff55"/>
<path d="M300 262V265M302.6 262V265" stroke="#fff" stroke-width="0.8" fill="none" opacity="0.42"/>
<path d="M309.28 259.3L312.28 265.3L306.28 265.3Z" fill="#55ff55" stroke="#55ff55"/>
<path d="M307.98 261.3V264.3M310.58 261.3V264.3" stroke="#fff" stroke-width="0.8" fill="none" opacity="0.42"/>
<path d="M317.26 258L320.26 264L314.26 264Z" fill="#55ff55" stroke="#55ff55"/>
<path d="M315.96 260V263M318.56 260V263" stroke="#fff" stroke-width="0.8" fill="none" opacity="0.42"/>
<path d="M325.23 257.5L328.23 263.5L322.23 263.5Z" fill="#55ff55" stroke="#55ff55"/>
<path d="M323.93 259.5V262.5M326.53 259.5V262.5" stroke="#fff" stroke-width="0.8" fill="none" opacity="0.42"/>
<path d="M333.21 256L336.21 262L330.21 262Z" fill="#55ff55" stroke="#55ff55"/>
<path d="M331.91 258V261M334.51 258V261" stroke="#fff" stroke-width="0.8" fill="none" opacity="0.42"/>
<path d="M341.19 254.5L344.19 260.5L338.19 260.5Z" fill="#55ff55" stroke="#55ff55"/>
<path d="M339.89 256.5V259.5M342.49 256.5V259.5" stroke="#fff" stroke-width="0.8" fill="none" opacity="0.42"/>
<path d="M349.17 254L352.17 260L346.17 260Z" fill="#55ff55" stroke="#55ff55"/>
<path d="M347.87 256V259M350.47 256V259" stroke="#fff" stroke-width="0.8" fill="none" opacity="0.42"/>
<path d="M357.15 253.5L360.15 259.5L354.15 259.5Z" fill="#55ff55" stroke="#55ff55"/>
<path d="M355.85 255.5V258.5M358.45 255.5V258.5" stroke="#fff" stroke-width="0.8" fill="none" opacity="0.42"/>
<path d="M365.12 252.5L368.12 258.5L362.12 258.5Z" fill="#55ff55" stroke="#55ff55"/>
<path d="M363.82 254.5V257.5M366.42 254.5V257.5" stroke="#fff" stroke-width="0.8" fill="none" opacity="0.42"/>
<path d="M373.1 251L376.1 257L370.1 257Z" fill="#55ff55" stroke="#55ff55"/>
<path d="M371.8 253V256M374.4 253V256" stroke="#fff" stroke-width="0.8" fill="none" opacity="0.42"/>
<path d="M381.08 250L384.08 256L378.08 256Z" fill="#55ff55" stroke="#55ff55"/>
<path d="M379.78 252V255M382.38 252V255" stroke="#fff" stroke-width="0.8" fill="none" opacity="0.42"/>
<path d="M389.06 248.5L392.06 254.5L386.06 254.5Z" fill="#55ff55" stroke="#55ff55"/>
<path d="M387.76 250.5V253.5M390.36 250.5V253.5" stroke="#fff" stroke-width="0.8" fill="none" opacity="0.42"/>
<path d="M397.04 247.5L400.04 253.5L394.04 253.5Z" fill="#55ff55" stroke="#55ff55"/>
<path d="M395.74 249.5V252.5M398.34 249.5V252.5" stroke="#fff" stroke-width="0.8" fill="none" opacity="0.42"/>
<path d="M405.01 247L408.01 253L402.01 253Z" fill="#55ff55" stroke="#55ff55"/>
<path d="M403.71 249V252M406.31 249V252" stroke="#fff" stroke-width="0.8" fill="none" opacity="0.42"/>
<path d="M412.99 246L415.99 252L409.99 252Z" fill="#55ff55" stroke="#55ff55"/>
<path d="M411.69 248V251M414.29 248V251" stroke="#fff" stroke-width="0.8" fill="none" opacity="0.42"/>
<path d="M420.97 245L423.97 251L417.97 251Z" fill="#55ff55" stroke="#55ff55"/>
<path d="M419.67 247V250M422.27 247V250" stroke="#fff" stroke-width="0.8" fill="none" opacity="0.42"/>
<path d="M428.95 244.4L431.95 250.4L425.95 250.4Z" fill="#55ff55" stroke="#55ff55"/>
<path d="M427.65 246.4V249.4M430.25 246.4V249.4" stroke="#fff" stroke-width="0.8" fill="none" opacity="0.42"/>
<path d="M436.93 242.6L439.93 248.6L433.93 248.6Z" fill="#55ff55" stroke="#55ff55"/>
<path d="M435.63 244.6V247.6M438.23 244.6V247.6" stroke="#fff" stroke-width="0.8" fill="none" opacity="0.42"/>
<path d="M444.9 244L447.9 250L441.9 250Z" fill="#55ff55" stroke="#55ff55"/>
<path d="M443.6 246V249M446.2 246V249" stroke="#fff" stroke-width="0.8" fill="none" opacity="0.42"/>
<path d="M452.88 243.4L455.88 249.4L449.88 249.4Z" fill="#55ff55" stroke="#55ff55"/>
<path d="M451.58 245.4V248.4M454.18 245.4V248.4" stroke="#fff" stroke-width="0.8" fill="none" opacity="0.42"/>
<path d="M460.86 243.4L463.86 249.4L457.86 249.4Z" fill="#55ff55" stroke="#55ff55"/>
<path d="M459.56 245.4V248.4M462.16 245.4V248.4" stroke="#fff" stroke-width="0.8" fill="none" opacity="0.42"/>
<path d="M468.84 242.6L471.84 248.6L465.84 248.6Z" fill="#55ff55" stroke="#55ff55"/>
<path d="M467.54 244.6V247.6M470.14 244.6V247.6" stroke="#fff" stroke-width="0.8" fill="none" opacity="0.42"/>
<path d="M476.82 240.6L479.82 246.6L473.82 246.6Z" fill="#55ff55" stroke="#55ff55"/>
<path d="M475.52 242.6V245.6M478.12 242.6V245.6" stroke="#fff" stroke-width="0.8" fill="none" opacity="0.42"/>
<path d="M484.79 241.4L487.79 247.4L481.79 247.4Z" fill="#55ff55" stroke="#55ff55"/>
<path d="M483.49 243.4V246.4M486.09 243.4V246.4" stroke="#fff" stroke-width="0.8" fill="none" opacity="0.42"/>
<path d="M492.77 240L495.77 246L489.77 246Z" fill="#55ff55" stroke="#55ff55"/>
<path d="M491.47 242V245M494.07 242V245" stroke="#fff" stroke-width="0.8" fill="none" opacity="0.42"/>
<path d="M500.75 238.4L503.75 244.4L497.75 244.4Z" fill="#55ff55" stroke="#55ff55"/>
<path d="M499.45 240.4V243.4M502.05 240.4V243.4" stroke="#fff" stroke-width="0.8" fill="none" opacity="0.42"/>
<path d="M508.73 229.6L511.73 235.6L505.73 235.6Z" fill="#55ff55" stroke="#55ff55"/>
<path d="M507.43 231.6V234.6M510.03 231.6V234.6" stroke="#fff" stroke-width="0.8" fill="none" opacity="0.42"/>
<path d="M516.71 234L519.71 240L513.71 240Z" fill="#55ff55" stroke="#55ff55"/>
<path d="M515.41 236V239M518.01 236V239" stroke="#fff" stroke-width="0.8" fill="none" opacity="0.42"/>
<path d="M524.68 231L527.68 237L521.68 237Z" fill="#55ff55" stroke="#55ff55"/>
<path d="M523.38 233V236M525.98 233V236" stroke="#fff" stroke-width="0.8" fill="none" opacity="0.42"/>
<path d="M532.66 229L535.66 235L529.66 235Z" fill="#55ff55" stroke="#55ff55"/>
<path d="M531.36 231V234M533.96 231V234" stroke="#fff" stroke-width="0.8" fill="none" opacity="0.42"/>
<path d="M540.64 219L543.64 225L537.64 225Z" fill="#55ff55" stroke="#55ff55"/>
<path d="M539.34 221V224M541.94 221V224" stroke="#fff" stroke-width="0.8" fill="none" opacity="0.42"/>
<path d="M548.62 223.4L551.62 229.4L545.62 229.4Z" fill="#55ff55" stroke="#55ff55"/>
<path d="M547.32 225.4V228.4M549.92 225.4V228.4" stroke="#fff" stroke-width="0.8" fill="none" opacity="0.42"/>
<path d="M556.6 220L559.6 226L553.6 226Z" fill="#55ff55" stroke="#55ff55"/>
<path d="M555.3 222V225M557.9 222V225" stroke="#fff" stroke-width="0.8" fill="none" opacity="0.42"/>
<path d="M564.57 216.4L567.57 222.4L561.57 222.4Z" fill="#55ff55" stroke="#55ff55"/>
<path d="M563.27 218.4V221.4M565.87 218.4V221.4" stroke="#fff" stroke-width="0.8" fill="none" opacity="0.42"/>
<path d="M572.55 202L575.55 208L569.55 208Z" fill="#55ff55" stroke="#55ff55"/>
<path d="M571.25 204V207M573.85 204V207" stroke="#fff" stroke-width="0.8" fill="none" opacity="0.42"/>
<path d="M580.53 208.6L583.53 214.6L577.53 214.6Z" fill="#55ff55" stroke="#55ff55"/>
<path d="M579.23 210.6V213.6M581.83 210.6V213.6" stroke="#fff" stroke-width="0.8" fill="none" opacity="0.42"/>
<path d="M588.51 202L591.51 208L585.51 208Z" fill="#55ff55" stroke="#55ff55"/>
<path d="M587.21 204V207M589.81 204V207" stroke="#fff" stroke-width="0.8" fill="none" opacity="0.42"/>
<path d="M596.49 193.6L599.49 199.6L593.49 199.6Z" fill="#55ff55" stroke="#55ff55"/>
<path d="M595.19 195.6V198.6M597.79 195.6V198.6" stroke="#fff" stroke-width="0.8" fill="none" opacity="0.42"/>
<path d="M604.46 192L607.46 198L601.46 198Z" fill="#55ff55" stroke="#55ff55"/>
<path d="M603.16 194V197M605.76 194V197" stroke="#fff" stroke-width="0.8" fill="none" opacity="0.42"/>
<path d="M612.44 187.4L615.44 193.4L609.44 193.4Z" fill="#55ff55" stroke="#55ff55"/>
<path d="M611.14 189.4V192.4M613.74 189.4V192.4" stroke="#fff" stroke-width="0.8" fill="none" opacity="0.42"/>
<path d="M620.42 182.6L623.42 188.6L617.42 188.6Z" fill="#55ff55" stroke="#55ff55"/>
<path d="M619.12 184.6V187.6M621.72 184.6V187.6" stroke="#fff" stroke-width="0.8" fill="none" opacity="0.42"/>
<path d="M628.4 174.5L631.4 180.5L625.4 180.5Z" fill="#55ff55" stroke="#55ff55"/>
<path d="M627.1 176.5V179.5M629.7 176.5V179.5" stroke="#fff" stroke-width="0.8" fill="none" opacity="0.42"/>
<path d="M636.38 173L639.38 179L633.38 179Z" fill="#55ff55" stroke="#55ff55"/>
<path d="M635.08 175V178M637.68 175V178" stroke="#fff" stroke-width="0.8" fill="none" opacity="0.42"/>
<path d="M644.35 167.6L647.35 173.6L641.35 173.6Z" fill="#55ff55" stroke="#55ff55"/>
<path d="M643.05 169.6V172.6M645.65 169.6V172.6" stroke="#fff" stroke-width="0.8" fill="none" opacity="0.42"/>
<path d="M652.33 162.4L655.33 168.4L649.33 168.4Z" fill="#55ff55" stroke="#55ff55"/>
<path d="M651.03 164.4V167.4M653.63 164.4V167.4" stroke="#fff" stroke-width="0.8" fill="none" opacity="0.42"/>
<path d="M660.31 160.6L663.31 166.6L657.31 166.6Z" fill="#55ff55" stroke="#55ff55"/>
<path d="M659.01 162.6V165.6M661.61 162.6V165.6" stroke="#fff" stroke-width="0.8" fill="none" opacity="0.42"/>
<path d="M668.29 156.4L671.29 162.4L665.29 162.4Z" fill="#55ff55" stroke="#55ff55"/>
<path d="M666.99 158.4V161.4M669.59 158.4V161.4" stroke="#fff" stroke-width="0.8" fill="none" opacity="0.42"/>
<path d="M676.27 154L679.27 160L673.27 160Z" fill="#55ff55" stroke="#55ff55"/>
<path d="M674.97 156V159M677.57 156V159" stroke="#fff" stroke-width="0.8" fill="none" opacity="0.42"/>
<path d="M684.24 151.4L687.24 157.4L681.24 157.4Z" fill="#55ff55" stroke="#55ff55"/>
<path d="M682.94 153.4V156.4M685.54 153.4V156.4" stroke="#fff" stroke-width="0.8" fill="none" opacity="0.42"/>
<path d="M692.22 148.4L695.22 154.4L689.22 154.4Z" fill="#55ff55" stroke="#55ff55"/>
<path d="M690.92 150.4V153.4M693.52 150.4V153.4" stroke="#fff" stroke-width="0.8" fill="none" opacity="0.42"/>
<path d="M700.2 147L703.2 153L697.2 153Z" fill="#55ff55" stroke="#55ff55"/>
<path d="M698.9 149V152M701.5 149V152" stroke="#fff" stroke-width="0.8" fill="none" opacity="0.42"/>
<path d="M708.18 145L711.18 151L705.18 151Z" fill="#55ff55" stroke="#55ff55"/>
<path d="M706.88 147V150M709.48 147V150" stroke="#fff" stroke-width="0.8" fill="none" opacity="0.42"/>
<path d="M716.16 143.4L719.16 149.4L713.16 149.4Z" fill="#55ff55" stroke="#55ff55"/>
<path d="M714.86 145.4V148.4M717.46 145.4V148.4" stroke="#fff" stroke-width="0.8" fill="none" opacity="0.42"/>
<path d="M724.13 141.4L727.13 147.4L721.13 147.4Z" fill="#55ff55" stroke="#55ff55"/>
<path d="M722.83 143.4V146.4M725.43 143.4V146.4" stroke="#fff" stroke-width="0.8" fill="none" opacity="0.42"/>
<path d="M732.11 140L735.11 146L729.11 146Z" fill="#55ff55" stroke="#55ff55"/>
<path d="M730.81 142V145M733.41 142V145" stroke="#fff" stroke-width="0.8" fill="none" opacity="0.42"/>
<path d="M740.09 139.4L743.09 145.4L737.09 145.4Z" fill="#55ff55" stroke="#55ff55"/>
<path d="M738.79 141.4V144.4M741.39 141.4V144.4" stroke="#fff" stroke-width="0.8" fill="none" opacity="0.42"/>
<path d="M748.07 135L751.07 141L745.07 141Z" fill="#55ff55" stroke="#55ff55"/>
<path d="M746.77 137V140M749.37 137V140" stroke="#fff" stroke-width="0.8" fill="none" opacity="0.42"/>
<path d="M756.05 129.6L759.05 135.6L753.05 135.6Z" fill="#55ff55" stroke="#55ff55"/>
<path d="M754.75 131.6V134.6M757.35 131.6V134.6" stroke="#fff" stroke-width="0.8" fill="none" opacity="0.42"/>
<path d="M764.02 119L767.02 125L761.02 125Z" fill="#55ff55" stroke="#55ff55"/>
<path d="M762.72 121V124M765.32 121V124" stroke="#fff" stroke-width="0.8" fill="none" opacity="0.42"/>
<path d="M772 99.5L775 105.5L769 105.5Z" fill="#55ff55" stroke="#55ff55"/>
<path d="M770.7 101.5V104.5M773.3 101.5V104.5" stroke="#fff" stroke-width="0.8" fill="none" opacity="0.42"/>
<path d="M779.98 83.9L782.98 89.9L776.98 89.9Z" fill="#55ff55" stroke="#55ff55"/>
<path d="M778.68 85.9V88.9M781.28 85.9V88.9" stroke="#fff" stroke-width="0.8" fill="none" opacity="0.42"/>
<path d="M787.96 85L790.96 91L784.96 91Z" fill="#55ff55" stroke="#55ff55"/>
<path d="M786.66 87V90M789.26 87V90" stroke="#fff" stroke-width="0.8" fill="none" opacity="0.42"/>
<circle cx="117.81" cy="320.5" r="3" fill="#5555ff" stroke="#5555ff"/>
<path d="M116.51 319V322M119.11 319V322" stroke="#fff" stroke-width="0.8" fill="none" opacity="0.42"/>
<circle cx="125.78" cy="315.4" r="3" fill="#5555ff" stroke="#5555ff"/>
<path d="M124.48 313.9V316.9M127.08 313.9V316.9" stroke="#fff" stroke-width="0.8" fill="none" opacity="0.42"/>
<circle cx="133.76" cy="311.3" r="3" fill="#5555ff" stroke="#5555ff"/>
<path d="M132.46 309.8V312.8M135.06 309.8V312.8" stroke="#fff" stroke-width="0.8" fill="none" opacity="0.42"/>
<circle cx="141.74" cy="305.8" r="3" fill="#5555ff" stroke="#5555ff"/>
<path d="M140.44 304.3V307.3M143.04 304.3V307.3" stroke="#fff" stroke-width="0.8" fill="none" opacity="0.42"/>
<circle cx="149.72" cy="302.8" r="3" fill="#5555ff" stroke="#5555ff"/>
<path d="M148.42 301.3V304.3M151.02 301.3V304.3" stroke="#fff" stroke-width="0.8" fill="none" opacity="0.42"/>
<circle cx="157.7" cy="298.5" r="3" fill="#5555ff" stroke="#5555ff"/>
<path d="M156.4 297V300M159 297V300" stroke="#fff" stroke-width="0.8" fill="none" opacity="0.42"/>
<circle cx="165.67" cy="295.5" r="3" fill="#5555ff" stroke="#5555ff"/>
<path d="M164.37 294V297M166.97 294V297" stroke="#fff" stroke-width="0.8" fill="none" opacity="0.42"/>
<circle cx="173.65" cy="294" r="3" fill="#5555ff" stroke="#5555ff"/>
<path d="M172.35 292.5V295.5M174.95 292.5V295.5" stroke="#fff" stroke-width="0.8" fill="none" opacity="0.42"/>
<circle cx="181.63" cy="292" r="3" fill="#5555ff" stroke="#5555ff"/>
<path d="M180.33 290.5V293.5M182.93 290.5V293.5" stroke="#fff" stroke-width="0.8" fill="none" opacity="0.42"/>
<circle cx="189.61" cy="289.5" r="3" fill="#5555ff" stroke="#5555ff"/>
<path d="M188.31 288V291M190.91 288V291" stroke="#fff" stroke-width="0.8" fill="none" opacity="0.42"/>
<circle cx="197.59" cy="288.5" r="3" fill="#5555ff" stroke="#5555ff"/>
<path d="M196.29 287V290M198.89 287V290" stroke="#fff" stroke-width="0.8" fill="none" opacity="0.42"/>
<circle cx="205.56" cy="286.7" r="3" fill="#5555ff" stroke="#5555ff"/>
<path d="M204.26 285.2V288.2M206.86 285.2V288.2" stroke="#fff" stroke-width="0.8" fill="none" opacity="0.42"/>
<circle cx="213.54" cy="285.2" r="3" fill="#5555ff" stroke="#5555ff"/>
<path d="M212.24 283.7V286.7M214.84 283.7V286.7" stroke="#fff" stroke-width="0.8" fill="none" opacity="0.42"/>
<circle cx="221.52" cy="283.8" r="3" fill="#5555ff" stroke="#5555ff"/>
<path d="M220.22 282.3V285.3M222.82 282.3V285.3" stroke="#fff" stroke-width="0.8" fill="none" opacity="0.42"/>
<circle cx="229.5" cy="282.5" r="3" fill="#5555ff" stroke="#5555ff"/>
<path d="M228.2 281V284M230.8 281V284" stroke="#fff" stroke-width="0.8" fill="none" opacity="0.42"/>
<circle cx="237.48" cy="281.2" r="3" fill="#5555ff" stroke="#5555ff"/>
<path d="M236.18 279.7V282.7M238.78 279.7V282.7" stroke="#fff" stroke-width="0.8" fill="none" opacity="0.42"/>
<circle cx="245.45" cy="279.8" r="3" fill="#5555ff" stroke="#5555ff"/>
<path d="M244.15 278.3V281.3M246.75 278.3V281.3" stroke="#fff" stroke-width="0.8" fill="none" opacity="0.42"/>
<circle cx="253.43" cy="278.5" r="3" fill="#5555ff" stroke="#5555ff"/>
<path d="M252.13 277V280M254.73 277V280" stroke="#fff" stroke-width="0.8" fill="none" opacity="0.42"/>
<circle cx="261.41" cy="277.7" r="3" fill="#5555ff" stroke="#5555ff"/>
<path d="M260.11 276.2V279.2M262.71 276.2V279.2" stroke="#fff" stroke-width="0.8" fill="none" opacity="0.42"/>
<circle cx="269.39" cy="276.7" r="3" fill="#5555ff" stroke="#5555ff"/>
<path d="M268.09 275.2V278.2M270.69 275.2V278.2" stroke="#fff" stroke-width="0.8" fill="none" opacity="0.42"/>
<circle cx="277.37" cy="275.2" r="3" fill="#5555ff" stroke="#5555ff"/>
<path d="M276.07 273.7V276.7M278.67 273.7V276.7" stroke="#fff" stroke-width="0.8" fill="none" opacity="0.42"/>
<circle cx="285.34" cy="274" r="3" fill="#5555ff" stroke="#5555ff"/>
<path d="M284.04 272.5V275.5M286.64 272.5V275.5" stroke="#fff" stroke-width="0.8" fill="none" opacity="0.42"/>
<circle cx="293.32" cy="273.3" r="3" fill="#5555ff" stroke="#5555ff"/>
<path d="M292.02 271.8V274.8M294.62 271.8V274.8" stroke="#fff" stroke-width="0.8" fill="none" opacity="0.42"/>
<circle cx="301.3" cy="272.5" r="3" fill="#5555ff" stroke="#5555ff"/>
<path d="M300 271V274M302.6 271V274" stroke="#fff" stroke-width="0.8" fill="none" opacity="0.42"/>
<circle cx="309.28" cy="271.5" r="3" fill="#5555ff" stroke="#5555ff"/>
<path d="M307.98 270V273M310.58 270V273" stroke="#fff" stroke-width="0.8" fill="none" opacity="0.42"/>
<circle cx="317.26" cy="270.5" r="3" fill="#5555ff" stroke="#5555ff"/>
<path d="M315.96 269V272M318.56 269V272" stroke="#fff" stroke-width="0.8" fill="none" opacity="0.42"/>
<circle cx="325.23" cy="269.7" r="3" fill="#5555ff" stroke="#5555ff"/>
<path d="M323.93 268.2V271.2M326.53 268.2V271.2" stroke="#fff" stroke-width="0.8" fill="none" opacity="0.42"/>
<circle cx="333.21" cy="269" r="3" fill="#5555ff" stroke="#5555ff"/>
<path d="M331.91 267.5V270.5M334.51 267.5V270.5" stroke="#fff" stroke-width="0.8" fill="none" opacity="0.42"/>
<circle cx="341.19" cy="268" r="3" fill="#5555ff" stroke="#5555ff"/>
<path d="M339.89 266.5V269.5M342.49 266.5V269.5" stroke="#fff" stroke-width="0.8" fill="none" opacity="0.42"/>
<circle cx="349.17" cy="267.3" r="3" fill="#5555ff" stroke="#5555ff"/>
<path d="M347.87 265.8V268.8M350.47 265.8V268.8" stroke="#fff" stroke-width="0.8" fill="none" opacity="0.42"/>
<circle cx="357.15" cy="266.3" r="3" fill="#5555ff" stroke="#5555ff"/>
<path d="M355.85 264.8V267.8M358.45 264.8V267.8" stroke="#fff" stroke-width="0.8" fill="none" opacity="0.42"/>
<circle cx="365.12" cy="266" r="3" fill="#5555ff" stroke="#5555ff"/>
<path d="M363.82 264.5V267.5M366.42 264.5V267.5" stroke="#fff" stroke-width="0.8" fill="none" opacity="0.42"/>
<circle cx="373.1" cy="265" r="3" fill="#5555ff" stroke="#5555ff"/>
<path d="M371.8 263.5V266.5M374.4 263.5V266.5" stroke="#fff" stroke-width="0.8" fill="none" opacity="0.42"/>
<circle cx="381.08" cy="264.3" r="3" fill="#5555ff" stroke="#5555ff"/>
<path d="M379.78 262.8V265.8M382.38 262.8V265.8" stroke="#fff" stroke-width="0.8" fill="none" opacity="0.42"/>
<circle cx="389.06" cy="263.5" r="3" fill="#5555ff" stroke="#5555ff"/>
<path d="M387.76 262V265M390.36 262V265" stroke="#fff" stroke-width="0.8" fill="none" opacity="0.42"/>
<circle cx="397.04" cy="262.8" r="3" fill="#5555ff" stroke="#5555ff"/>
<path d="M395.74 261.3V264.3M398.34 261.3V264.3" stroke="#fff" stroke-width="0.8" fill="none" opacity="0.42"/>
<circle cx="405.01" cy="262.5" r="3" fill="#5555ff" stroke="#5555ff"/>
<path d="M403.71 261V264M406.31 261V264" stroke="#fff" stroke-width="0.8" fill="none" opacity="0.42"/>
<circle cx="412.99" cy="261.5" r="3" fill="#5555ff" stroke="#5555ff"/>
<path d="M411.69 260V263M414.29 260V263" stroke="#fff" stroke-width="0.8" fill="none" opacity="0.42"/>
<circle cx="420.97" cy="261" r="3" fill="#5555ff" stroke="#5555ff"/>
<path d="M419.67 259.5V262.5M422.27 259.5V262.5" stroke="#fff" stroke-width="0.8" fill="none" opacity="0.42"/>
<circle cx="428.95" cy="260.5" r="3" fill="#5555ff" stroke="#5555ff"/>
<path d="M427.65 259V262M430.25 259V262" stroke="#fff" stroke-width="0.8" fill="none" opacity="0.42"/>
<circle cx="436.93" cy="259.9" r="3" fill="#5555ff" stroke="#5555ff"/>
<path d="M435.63 258.4V261.4M438.23 258.4V261.4" stroke="#fff" stroke-width="0.8" fill="none" opacity="0.42"/>
<circle cx="444.9" cy="260" r="3" fill="#5555ff" stroke="#5555ff"/>
<path d="M443.6 258.5V261.5M446.2 258.5V261.5" stroke="#fff" stroke-width="0.8" fill="none" opacity="0.42"/>
<circle cx="452.88" cy="260" r="3" fill="#5555ff" stroke="#5555ff"/>
<path d="M451.58 258.5V261.5M454.18 258.5V261.5" stroke="#fff" stroke-width="0.8" fill="none" opacity="0.42"/>
<circle cx="460.86" cy="259.8" r="3" fill="#5555ff" stroke="#5555ff"/>
<path d="M459.56 258.3V261.3M462.16 258.3V261.3" stroke="#fff" stroke-width="0.8" fill="none" opacity="0.42"/>
<circle cx="468.84" cy="259.5" r="3" fill="#5555ff" stroke="#5555ff"/>
<path d="M467.54 258V261M470.14 258V261" stroke="#fff" stroke-width="0.8" fill="none" opacity="0.42"/>
<circle cx="476.82" cy="259.2" r="3" fill="#5555ff" stroke="#5555ff"/>
<path d="M475.52 257.7V260.7M478.12 257.7V260.7" stroke="#fff" stroke-width="0.8" fill="none" opacity="0.42"/>
<circle cx="484.79" cy="259" r="3" fill="#5555ff" stroke="#5555ff"/>
<path d="M483.49 257.5V260.5M486.09 257.5V260.5" stroke="#fff" stroke-width="0.8" fill="none" opacity="0.42"/>
<circle cx="492.77" cy="258.8" r="3" fill="#5555ff" stroke="#5555ff"/>
<path d="M491.47 257.3V260.3M494.07 257.3V260.3" stroke="#fff" stroke-width="0.8" fill="none" opacity="0.42"/>
<circle cx="500.75" cy="258.6" r="3" fill="#5555ff" stroke="#5555ff"/>
<path d="M499.45 257.1V260.1M502.05 257.1V260.1" stroke="#fff" stroke-width="0.8" fill="none" opacity="0.42"/>
<circle cx="508.73" cy="258" r="3" fill="#5555ff" stroke="#5555ff"/>
<path d="M507.43 256.5V259.5M510.03 256.5V259.5" stroke="#fff" stroke-width="0.8" fill="none" opacity="0.42"/>
<circle cx="516.71" cy="257.6" r="3" fill="#5555ff" stroke="#5555ff"/>
<path d="M515.41 256.1V259.1M518.01 256.1V259.1" stroke="#fff" stroke-width="0.8" fill="none" opacity="0.42"/>
<circle cx="524.68" cy="257.4" r="3" fill="#5555ff" stroke="#5555ff"/>
<path d="M523.38 255.9V258.9M525.98 255.9V258.9" stroke="#fff" stroke-width="0.8" fill="none" opacity="0.42"/>
<circle cx="532.66" cy="256.6" r="3" fill="#5555ff" stroke="#5555ff"/>
<path d="M531.36 255.1V258.1M533.96 255.1V258.1" stroke="#fff" stroke-width="0.8" fill="none" opacity="0.42"/>
<circle cx="540.64" cy="255" r="3" fill="#5555ff" stroke="#5555ff"/>
<path d="M539.34 253.5V256.5M541.94 253.5V256.5" stroke="#fff" stroke-width="0.8" fill="none" opacity="0.42"/>
<circle cx="548.62" cy="254.4" r="3" fill="#5555ff" stroke="#5555ff"/>
<path d="M547.32 252.9V255.9M549.92 252.9V255.9" stroke="#fff" stroke-width="0.8" fill="none" opacity="0.42"/>
<circle cx="556.6" cy="253.6" r="3" fill="#5555ff" stroke="#5555ff"/>
<path d="M555.3 252.1V255.1M557.9 252.1V255.1" stroke="#fff" stroke-width="0.8" fill="none" opacity="0.42"/>
<circle cx="564.57" cy="252.4" r="3" fill="#5555ff" stroke="#5555ff"/>
<path d="M563.27 250.9V253.9M565.87 250.9V253.9" stroke="#fff" stroke-width="0.8" fill="none" opacity="0.42"/>
<circle cx="572.55" cy="247.6" r="3" fill="#5555ff" stroke="#5555ff"/>
<path d="M571.25 246.1V249.1M573.85 246.1V249.1" stroke="#fff" stroke-width="0.8" fill="none" opacity="0.42"/>
<circle cx="580.53" cy="246" r="3" fill="#5555ff" stroke="#5555ff"/>
<path d="M579.23 244.5V247.5M581.83 244.5V247.5" stroke="#fff" stroke-width="0.8" fill="none" opacity="0.42"/>
<circle cx="588.51" cy="241.6" r="3" fill="#5555ff" stroke="#5555ff"/>
<path d="M587.21 240.1V243.1M589.81 240.1V243.1" stroke="#fff" stroke-width="0.8" fill="none" opacity="0.42"/>
<circle cx="596.49" cy="234" r="3" fill="#5555ff" stroke="#5555ff"/>
<path d="M595.19 232.5V235.5M597.79 232.5V235.5" stroke="#fff" stroke-width="0.8" fill="none" opacity="0.42"/>
<circle cx="604.46" cy="226" r="3" fill="#5555ff" stroke="#5555ff"/>
<path d="M603.16 224.5V227.5M605.76 224.5V227.5" stroke="#fff" stroke-width="0.8" fill="none" opacity="0.42"/>
<circle cx="612.44" cy="216.4" r="3" fill="#5555ff" stroke="#5555ff"/>
<path d="M611.14 214.9V217.9M613.74 214.9V217.9" stroke="#fff" stroke-width="0.8" fill="none" opacity="0.42"/>
<circle cx="620.42" cy="207.6" r="3" fill="#5555ff" stroke="#5555ff"/>
<path d="M619.12 206.1V209.1M621.72 206.1V209.1" stroke="#fff" stroke-width="0.8" fill="none" opacity="0.42"/>
<circle cx="628.4" cy="195.6" r="3" fill="#5555ff" stroke="#5555ff"/>
<path d="M627.1 194.1V197.1M629.7 194.1V197.1" stroke="#fff" stroke-width="0.8" fill="none" opacity="0.42"/>
<circle cx="636.38" cy="189.6" r="3" fill="#5555ff" stroke="#5555ff"/>
<path d="M635.08 188.1V191.1M637.68 188.1V191.1" stroke="#fff" stroke-width="0.8" fill="none" opacity="0.42"/>
<circle cx="644.35" cy="181" r="3" fill="#5555ff" stroke="#5555ff"/>
<path d="M643.05 179.5V182.5M645.65 179.5V182.5" stroke="#fff" stroke-width="0.8" fill="none" opacity="0.42"/>
<circle cx="652.33" cy="176" r="3" fill="#5555ff" stroke="#5555ff"/>
<path d="M651.03 174.5V177.5M653.63 174.5V177.5" stroke="#fff" stroke-width="0.8" fill="none" opacity="0.42"/>
<circle cx="660.31" cy="172.4" r="3" fill="#5555ff" stroke="#5555ff"/>
<path d="M659.01 170.9V173.9M661.61 170.9V173.9" stroke="#fff" stroke-width="0.8" fill="none" opacity="0.42"/>
<circle cx="668.29" cy="168.6" r="3" fill="#5555ff" stroke="#5555ff"/>
<path d="M666.99 167.1V170.1M669.59 167.1V170.1" stroke="#fff" stroke-width="0.8" fill="none" opacity="0.42"/>
<circle cx="676.27" cy="165" r="3" fill="#5555ff" stroke="#5555ff"/>
<path d="M674.97 163.5V166.5M677.57 163.5V166.5" stroke="#fff" stroke-width="0.8" fill="none" opacity="0.42"/>
<circle cx="684.24" cy="162.6" r="3" fill="#5555ff" stroke="#5555ff"/>
<path d="M682.94 161.1V164.1M685.54 161.1V164.1" stroke="#fff" stroke-width="0.8" fill="none" opacity="0.42"/>
<circle cx="692.22" cy="160" r="3" fill="#5555ff" stroke="#5555ff"/>
<path d="M690.92 158.5V161.5M693.52 158.5V161.5" stroke="#fff" stroke-width="0.8" fill="none" opacity="0.42"/>
<circle cx="700.2" cy="158.5" r="3" fill="#5555ff" stroke="#5555ff"/>
<path d="M698.9 157V160M701.5 157V160" stroke="#fff" stroke-width="0.8" fill="none" opacity="0.42"/>
<circle cx="708.18" cy="156" r="3" fill="#5555ff" stroke="#5555ff"/>
<path d="M706.88 154.5V157.5M709.48 154.5V157.5" stroke="#fff" stroke-width="0.8" fill="none" opacity="0.42"/>
<circle cx="716.16" cy="154.4" r="3" fill="#5555ff" stroke="#5555ff"/>
<path d="M714.86 152.9V155.9M717.46 152.9V155.9" stroke="#fff" stroke-width="0.8" fill="none" opacity="0.42"/>
<circle cx="724.13" cy="153.6" r="3" fill="#5555ff" stroke="#5555ff"/>
<path d="M722.83 152.1V155.1M725.43 152.1V155.1" stroke="#fff" stroke-width="0.8" fill="none" opacity="0.42"/>
<circle cx="732.11" cy="151.4" r="3" fill="#5555ff" stroke="#5555ff"/>
<path d="M730.81 149.9V152.9M733.41 149.9V152.9" stroke="#fff" stroke-width="0.8" fill="none" opacity="0.42"/>
<circle cx="740.09" cy="152" r="3" fill="#5555ff" stroke="#5555ff"/>
<path d="M738.79 150.5V153.5M741.39 150.5V153.5" stroke="#fff" stroke-width="0.8" fill="none" opacity="0.42"/>
<circle cx="748.07" cy="147.6" r="3" fill="#5555ff" stroke="#5555ff"/>
<path d="M746.77 146.1V149.1M749.37 146.1V149.1" stroke="#fff" stroke-width="0.8" fill="none" opacity="0.42"/>
<circle cx="756.05" cy="143.4" r="3" fill="#5555ff" stroke="#5555ff"/>
<path d="M754.75 141.9V144.9M757.35 141.9V144.9" stroke="#fff" stroke-width="0.8" fill="none" opacity="0.42"/>
<circle cx="764.02" cy="137.6" r="3" fill="#5555ff" stroke="#5555ff"/>
<path d="M762.72 136.1V139.1M765.32 136.1V139.1" stroke="#fff" stroke-width="0.8" fill="none" opacity="0.42"/>
<circle cx="772" cy="127" r="3" fill="#5555ff" stroke="#5555ff"/>
<path d="M770.7 125.5V128.5M773.3 125.5V128.5" stroke="#fff" stroke-width="0.8" fill="none" opacity="0.42"/>
<circle cx="779.98" cy="115" r="3" fill="#5555ff" stroke="#5555ff"/>
<path d="M778.68 113.5V116.5M781.28 113.5V116.5" stroke="#fff" stroke-width="0.8" fill="none" opacity="0.42"/>
<circle cx="787.96" cy="115" r="3" fill="#5555ff" stroke="#5555ff"/>
<path d="M786.66 113.5V116.5M789.26 113.5V116.5" stroke="#fff" stroke-width="0.8" fill="none" opacity="0.42"/>
<rect x="673.27" y="308" width="6" height="6" fill="#ff5555" stroke="#ff5555"/>
<path d="M674.97 308.5V313.5M677.57 308.5V313.5M673.77 311H678.77" stroke="#fff" stroke-width="0.8" fill="none" opacity="0.42"/>
<rect x="681.24" y="287" width="6" height="6" fill="#ff5555" stroke="#ff5555"/>
<path d="M682.94 287.5V292.5M685.54 287.5V292.5M681.74 290H686.74" stroke="#fff" stroke-width="0.8" fill="none" opacity="0.42"/>
<rect x="689.22" y="273.4" width="6" height="6" fill="#ff5555" stroke="#ff5555"/>
<path d="M690.92 273.9V278.9M693.52 273.9V278.9M689.72 276.4H694.72" stroke="#fff" stroke-width="0.8" fill="none" opacity="0.42"/>
<rect x="697.2" y="287" width="6" height="6" fill="#ff5555" stroke="#ff5555"/>
<path d="M698.9 287.5V292.5M701.5 287.5V292.5M697.7 290H702.7" stroke="#fff" stroke-width="0.8" fill="none" opacity="0.42"/>
<rect x="705.18" y="293.4" width="6" height="6" fill="#ff5555" stroke="#ff5555"/>
<path d="M706.88 293.9V298.9M709.48 293.9V298.9M705.68 296.4H710.68" stroke="#fff" stroke-width="0.8" fill="none" opacity="0.42"/>
<rect x="713.16" y="304.4" width="6" height="6" fill="#ff5555" stroke="#ff5555"/>
<path d="M714.86 304.9V309.9M717.46 304.9V309.9M713.66 307.4H718.66" stroke="#fff" stroke-width="0.8" fill="none" opacity="0.42"/>
<rect x="721.13" y="250.4" width="6" height="6" fill="#ff5555" stroke="#ff5555"/>
<path d="M722.83 250.9V255.9M725.43 250.9V255.9M721.63 253.4H726.63" stroke="#fff" stroke-width="0.8" fill="none" opacity="0.42"/>
<rect x="729.11" y="306" width="6" height="6" fill="#ff5555" stroke="#ff5555"/>
<path d="M730.81 306.5V311.5M733.41 306.5V311.5M729.61 309H734.61" stroke="#fff" stroke-width="0.8" fill="none" opacity="0.42"/>
<rect x="737.09" y="286.4" width="6" height="6" fill="#ff5555" stroke="#ff5555"/>
<path d="M738.79 286.9V291.9M741.39 286.9V291.9M737.59 289.4H742.59" stroke="#fff" stroke-width="0.8" fill="none" opacity="0.42"/>
<rect x="745.07" y="242.6" width="6" height="6" fill="#ff5555" stroke="#ff5555"/>
<path d="M746.77 243.1V248.1M749.37 243.1V248.1M745.57 245.6H750.57" stroke="#fff" stroke-width="0.8" fill="none" opacity="0.42"/>
<rect x="753.05" y="301" width="6" height="6" fill="#ff5555" stroke="#ff5555"/>
<path d="M754.75 301.5V306.5M757.35 301.5V306.5M753.55 304H758.55" stroke="#fff" stroke-width="0.8" fill="none" opacity="0.42"/>
<rect x="761.02" y="212" width="6" height="6" fill="#ff5555" stroke="#ff5555"/>
<path d="M762.72 212.5V217.5M765.32 212.5V217.5M761.52 215H766.52" stroke="#fff" stroke-width="0.8" fill="none" opacity="0.42"/>
<rect x="769" y="232" width="6" height="6" fill="#ff5555" stroke="#ff5555"/>
<path d="M770.7 232.5V237.5M773.3 232.5V237.5M769.5 235H774.5" stroke="#fff" stroke-width="0.8" fill="none" opacity="0.42"/>
<rect x="776.98" y="204" width="6" height="6" fill="#ff5555" stroke="#ff5555"/>
<path d="M778.68 204.5V209.5M781.28 204.5V209.5M777.48 207H782.48" stroke="#fff" stroke-width="0.8" fill="none" opacity="0.42"/>
<rect x="784.96" y="204" width="6" height="6" fill="#ff5555" stroke="#ff5555"/>
<path d="M786.66 204.5V209.5M789.26 204.5V209.5M785.46 207H790.46" stroke="#fff" stroke-width="0.8" fill="none" opacity="0.42"/>
<path d="M365 10.5V327.5" stroke="#ffc800" stroke-width="2" fill="none"/>
<path d="M772 10.5V327.5" stroke="#ff0000" stroke-width="2" fill="none"/>
</g>
<rect x="94.5" y="10.5" width="694" height="317" fill="none" stroke="#7e7e7e" stroke-width="1"/>
<g stroke="#c0c0c0" stroke-width="1" fill="none">
<path d="M90.5 10.5V327.5"/>
<path d="M88 317.5H90.5"/>
<path d="M88 299.5H90.5"/>
<path d="M88 289.5H90.5"/>
<path d="M88 281.5H90.5"/>
<path d="M88 275.5H90.5"/>
<path d="M88 271.5H90.5"/>
<path d="M88 267.5H90.5"/>
<path d="M88 263.5H90.5"/>
<path d="M88 260.5H90.5"/>
<path d="M88 257.5H90.5"/>
<path d="M88 239.5H90.5"/>
<path d="M88 229.5H90.5"/>
<path d="M88 221.5H90.5"/>
<path d="M88 215.5H90.5"/>
<path d="M88 211.5H90.5"/>
<path d="M88 207.5H90.5"/>
<path d="M88 203.5H90.5"/>
<path d="M88 200.5H90.5"/>
<path d="M88 197.5H90.5"/>
<path d="M88 179.5H90.5"/>
<path d="M88 169.5H90.5"/>
<path d="M88 161.5H90.5"/>
<path d="M88 155.5H90.5"/>
<path d="M88 151.5H90.5"/>
<path d="M88 147.5H90.5"/>
<path d="M88 143.5H90.5"/>
<path d="M88 140.5H90.5"/>
<path d="M88 137.5H90.5"/>
<path d="M88 119.5H90.5"/>
<path d="M88 109.5H90.5"/>
<path d="M88 101.5H90.5"/>
<path d="M88 95.5H90.5"/>
<path d="M88 91.5H90.5"/>
<path d="M88 87.5H90.5"/>
<path d="M88 83.5H90.5"/>
<path d="M88 80.5H90.5"/>
<path d="M88 77.5H90.5"/>
<path d="M88 59.5H90.5"/>
<path d="M88 49.5H90.5"/>
<path d="M88 41.5H90.5"/>
<path d="M88 35.5H90.5"/>
<path d="M88 30.5H90.5"/>
<path d="M88 26.5H90.5"/>
<path d="M88 23.5H90.5"/>
<path d="M88 20.5H90.5"/>
<path d="M88 17.5H90.5"/>
<path d="M94 331.5H789"/>
<path d="M94.5 331.5V334"/>
<path d="M181.5 331.5V334"/>
<path d="M268.5 331.5V334"/>
<path d="M355.5 331.5V334"/>
<path d="M442.5 331.5V334"/>
<path d="M530.5 331.5V334"/>
<path d="M617.5 331.5V334"/>
<path d="M704.5 331.5V334"/>
</g>
<g fill="#000" font-size="9.7px" text-anchor="end">
<text x="84.6" y="21" textLength="54.45" lengthAdjust="spacingAndGlyphs">100000000</text>
<text x="84.6" y="81" textLength="48.4" lengthAdjust="spacingAndGlyphs">10000000</text>
<text x="84.6" y="141" textLength="42.35" lengthAdjust="spacingAndGlyphs">1000000</text>
<text x="84.6" y="201" textLength="36.3" lengthAdjust="spacingAndGlyphs">100000</text>
<text x="84.6" y="261" textLength="30.25" lengthAdjust="spacingAndGlyphs">10000</text>
<text x="84.6" y="321" textLength="24.2" lengthAdjust="spacingAndGlyphs">1000</text>
</g>
<g fill="#3c3c3c" font-size="12.2px" text-anchor="middle">
<text x="94.5" y="346.3" textLength="8.43" lengthAdjust="spacingAndGlyphs">0</text>
<text x="181.5" y="346.3" textLength="42.76" lengthAdjust="spacingAndGlyphs">50,000</text>
<text x="268.5" y="346.3" textLength="50.39" lengthAdjust="spacingAndGlyphs">100,000</text>
<text x="355.5" y="346.3" textLength="50.39" lengthAdjust="spacingAndGlyphs">150,000</text>
<text x="442.5" y="346.3" textLength="50.39" lengthAdjust="spacingAndGlyphs">200,000</text>
<text x="530.5" y="346.3" textLength="50.39" lengthAdjust="spacingAndGlyphs">250,000</text>
<text x="617.5" y="346.3" textLength="50.39" lengthAdjust="spacingAndGlyphs">300,000</text>
<text x="704.5" y="346.3" textLength="50.39" lengthAdjust="spacingAndGlyphs">350,000</text>
</g>
<text x="440" y="364.5" text-anchor="middle" font-size="13.4px" font-weight="bold" fill="#3c3c3c" textLength="36.2" lengthAdjust="spacingAndGlyphs">jOPS</text>
<text transform="translate(21.7 168) rotate(-90)" text-anchor="middle" font-size="12.2px" fill="#000" textLength="131" lengthAdjust="spacingAndGlyphs">Response time, usec</text>
<rect x="131.5" y="377.5" width="538" height="21" fill="#fff" stroke="#000" stroke-width="1"/>
<rect x="138.4" y="385" width="6" height="6" fill="#ff5555" stroke="#ff5555"/>
<circle cx="187.4" cy="388" r="3" fill="#5555ff" stroke="#5555ff"/>
<path d="M257.4 385L260.4 391L254.4 391Z" fill="#55ff55" stroke="#55ff55"/>
<path d="M381.4 385L384.4 388L381.4 391L378.4 388Z" fill="#ffff55" stroke="#ffff55"/>
<rect x="502.6" y="386.5" width="6" height="3" fill="#ff55ff" stroke="#ff55ff"/>
<path d="M626.4 385L632.4 385L629.4 391Z" fill="#55ffff" stroke="#55ffff"/>
<g fill="#333" font-size="12.2px">
<text x="153.4" y="391.6" textLength="20.6" lengthAdjust="spacingAndGlyphs">min</text>
<text x="199.6" y="391.6" textLength="44.8" lengthAdjust="spacingAndGlyphs">median</text>
<text x="269.6" y="391.6" textLength="98.4" lengthAdjust="spacingAndGlyphs">90-th percentile</text>
<text x="393.6" y="391.6" textLength="98.8" lengthAdjust="spacingAndGlyphs">95-th percentile</text>
<text x="517.6" y="391.6" textLength="98.4" lengthAdjust="spacingAndGlyphs">99-th percentile</text>
<text x="641.6" y="391.6" textLength="24.4" lengthAdjust="spacingAndGlyphs">max</text>
</g>
</svg>
</body></html>
